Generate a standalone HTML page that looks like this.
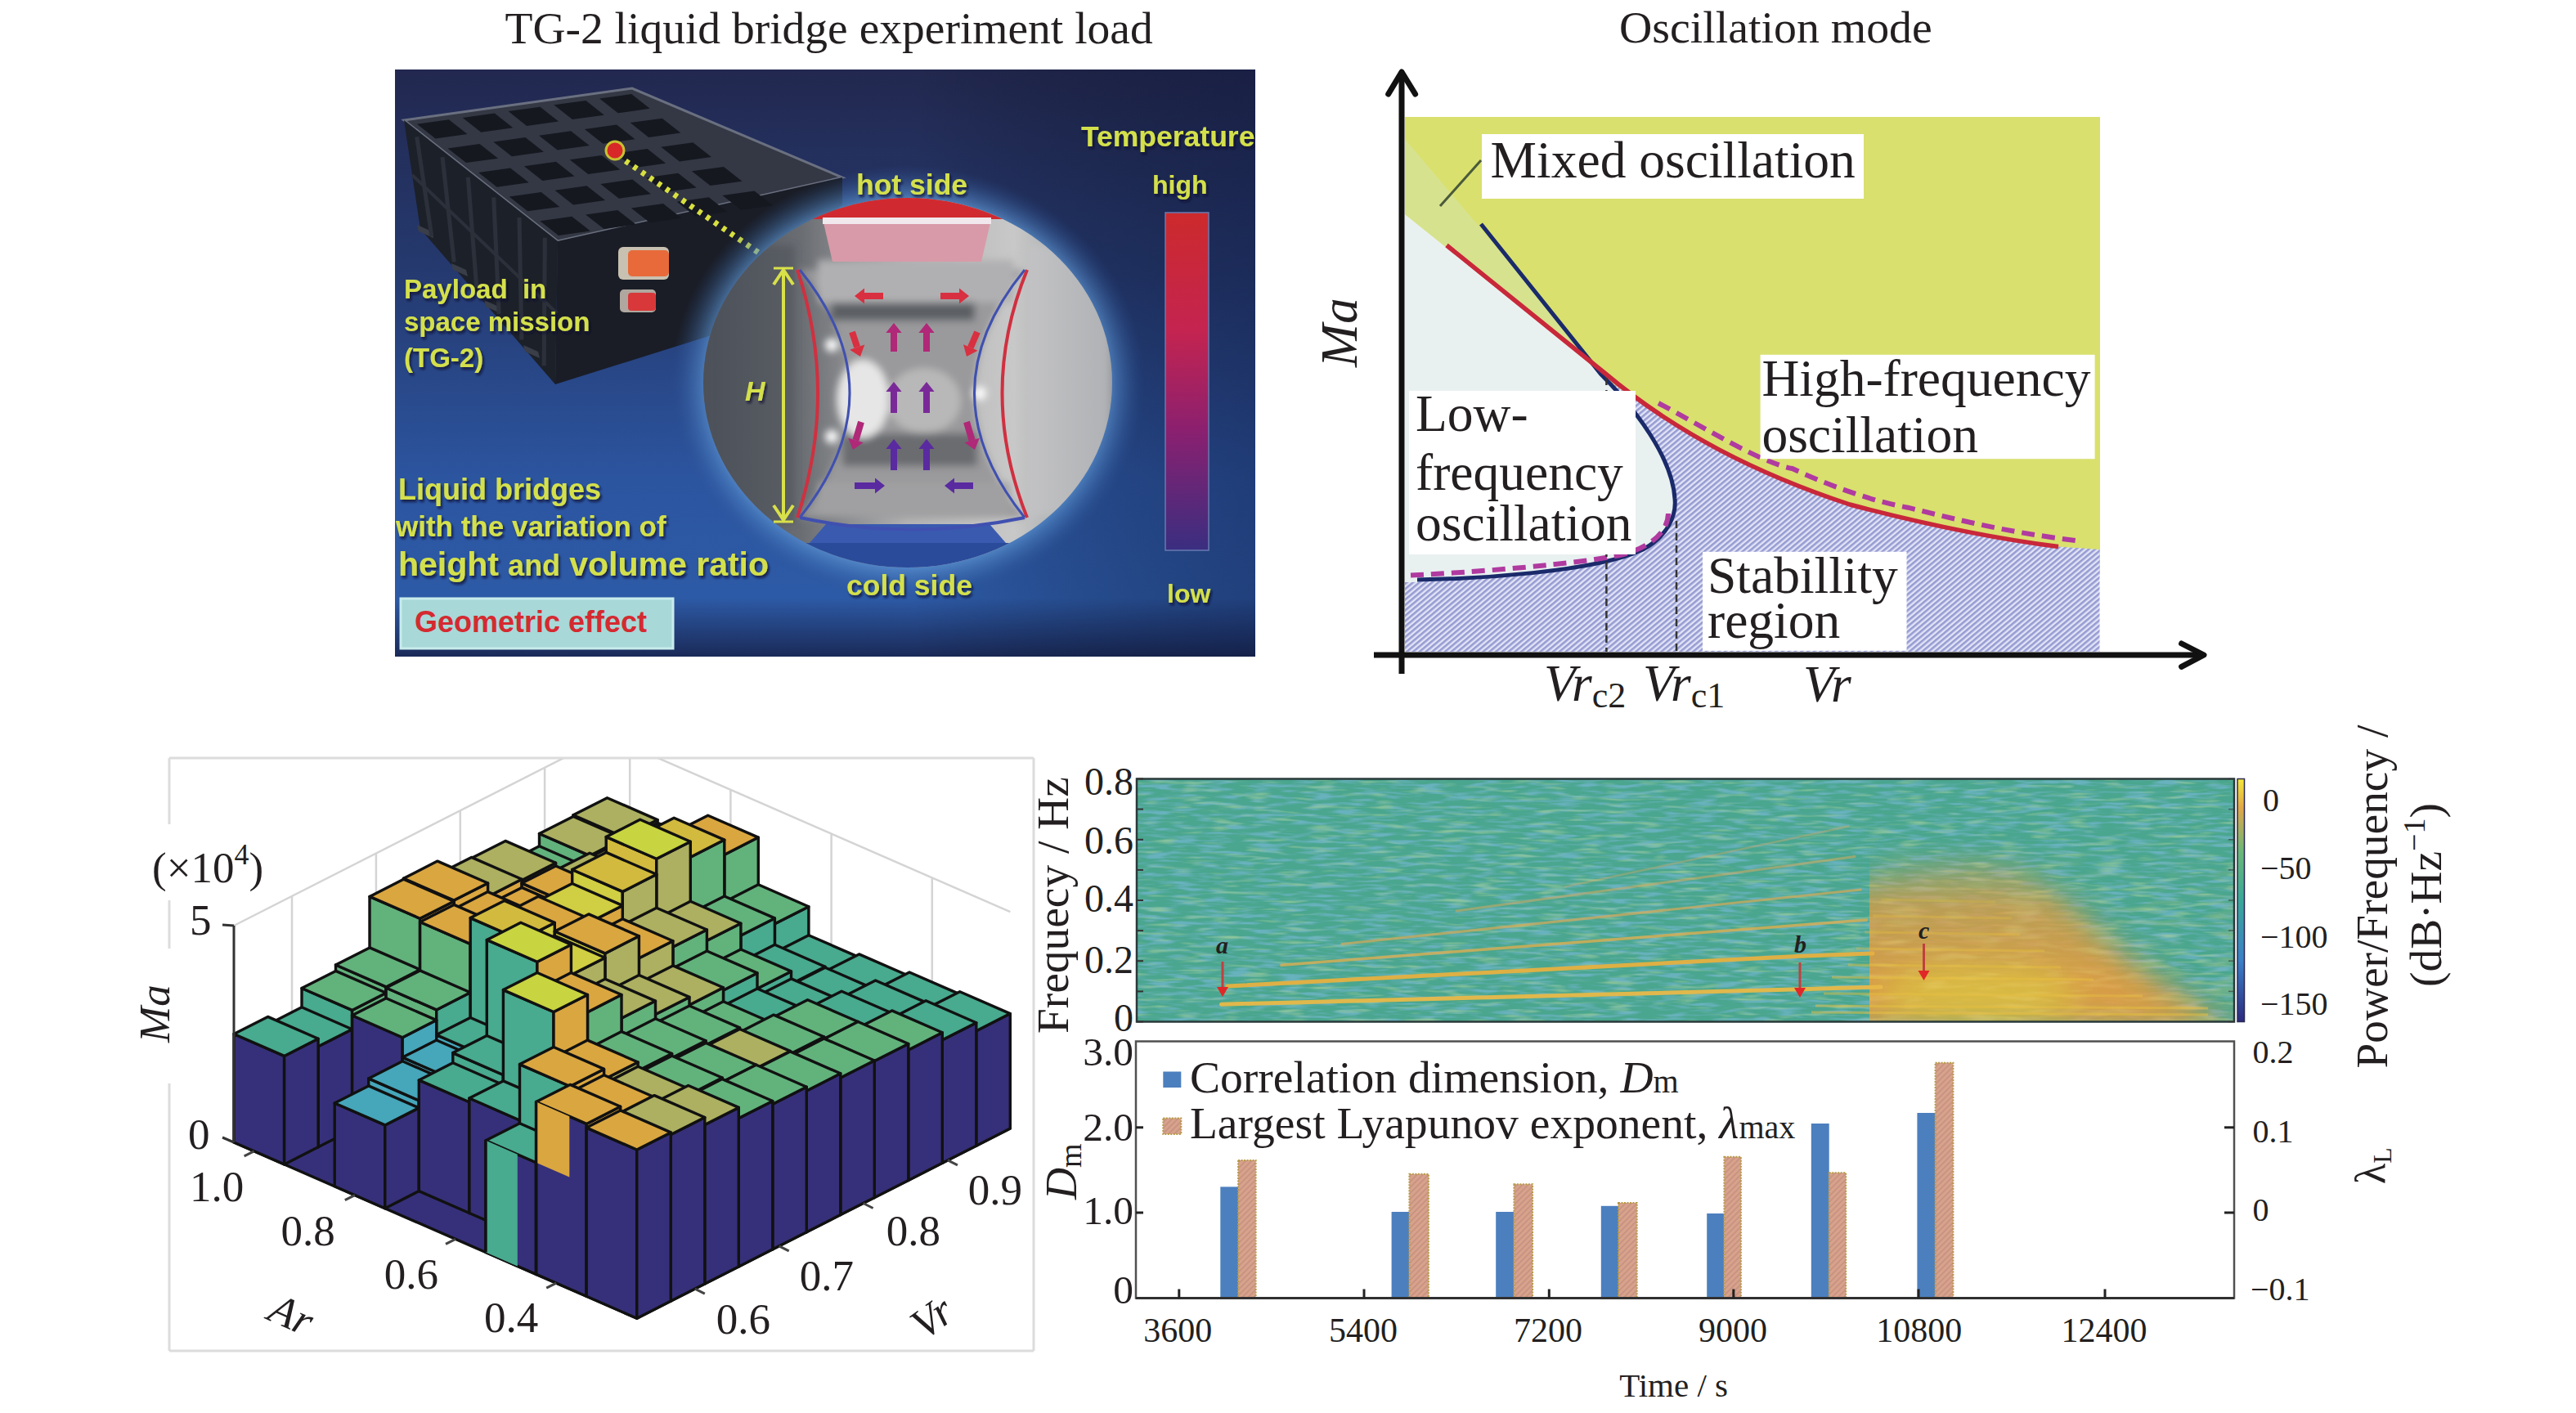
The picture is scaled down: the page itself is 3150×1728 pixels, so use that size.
<!DOCTYPE html>
<html><head><meta charset="utf-8"><style>
html,body{margin:0;padding:0;background:#fff;width:3150px;height:1728px;overflow:hidden}
svg{display:block}
</style></head><body>
<svg width="3150" height="1728" viewBox="0 0 3150 1728">
<defs>
<linearGradient id="phbg" x1="0" y1="0" x2="0" y2="1">
  <stop offset="0" stop-color="#22284f"/>
  <stop offset="0.35" stop-color="#253a70"/>
  <stop offset="0.7" stop-color="#2c55a0"/>
  <stop offset="0.9" stop-color="#2d5aa6"/>
  <stop offset="1" stop-color="#1a2a58"/>
</linearGradient>
<linearGradient id="phbg2" x1="0" y1="0" x2="1" y2="0">
  <stop offset="0" stop-color="#000" stop-opacity="0"/>
  <stop offset="0.6" stop-color="#000" stop-opacity="0"/>
  <stop offset="1" stop-color="#0a1030" stop-opacity="0.35"/>
</linearGradient>
<radialGradient id="glow" cx="0.5" cy="0.5" r="0.5">
  <stop offset="0.85" stop-color="#5e96d2" stop-opacity="0.7"/>
  <stop offset="0.92" stop-color="#4a7cbc" stop-opacity="0.35"/>
  <stop offset="1" stop-color="#2a5090" stop-opacity="0"/>
</radialGradient>
<linearGradient id="lens" x1="0" y1="0" x2="1" y2="0">
  <stop offset="0" stop-color="#4a4f58"/>
  <stop offset="0.25" stop-color="#6a6d72"/>
  <stop offset="0.5" stop-color="#b4b4b4"/>
  <stop offset="0.75" stop-color="#c8c8c8"/>
  <stop offset="1" stop-color="#8a8e94"/>
</linearGradient>
<radialGradient id="lensc" cx="0.42" cy="0.5" r="0.3">
  <stop offset="0" stop-color="#e8e8e8" stop-opacity="0.9"/>
  <stop offset="1" stop-color="#909090" stop-opacity="0"/>
</radialGradient>
<linearGradient id="temp" x1="0" y1="0" x2="0" y2="1">
  <stop offset="0" stop-color="#cc2a2c"/>
  <stop offset="0.35" stop-color="#c42450"/>
  <stop offset="0.65" stop-color="#8a2070"/>
  <stop offset="1" stop-color="#3a2e80"/>
</linearGradient>
<clipPath id="phclip"><rect x="483" y="85" width="1052" height="718"/></clipPath>
<filter id="lensblur" x="-10%" y="-10%" width="120%" height="120%"><feGaussianBlur stdDeviation="5"/></filter>
<clipPath id="lensclip"><ellipse cx="1110" cy="468" rx="250" ry="226"/></clipPath>
<filter id="tsh" x="-5%" y="-20%" width="110%" height="140%"><feDropShadow dx="2" dy="3" stdDeviation="1.5" flood-color="#0a1030" flood-opacity="0.8"/></filter>

<pattern id="hatch" patternUnits="userSpaceOnUse" width="5" height="5" patternTransform="rotate(50)">
  <rect width="5" height="5" fill="#e2e4f6"/>
  <rect width="2.6" height="5" fill="#969cd2"/>
</pattern>

<clipPath id="specclip"><rect x="1390" y="952.5" width="1342" height="297.0"/></clipPath>
<filter id="specnoise" x="0" y="0" width="100%" height="100%" filterUnits="objectBoundingBox">
  <feTurbulence type="fractalNoise" baseFrequency="0.03 0.22" numOctaves="2" seed="7" result="n"/>
  <feColorMatrix in="n" type="matrix" values="0 0 0 0 0.22  0 0 0 0 0.50  0 0 0 0 0.78  3.6 0 0 0 -1.6" result="blue"/>
  <feTurbulence type="fractalNoise" baseFrequency="0.025 0.2" numOctaves="2" seed="23" result="n2"/>
  <feColorMatrix in="n2" type="matrix" values="0 0 0 0 0.52  0 0 0 0 0.72  0 0 0 0 0.40  3.0 0 0 0 -1.65" result="yel"/>
  <feMerge><feMergeNode in="blue"/><feMergeNode in="yel"/></feMerge>
</filter>
<linearGradient id="blobfade" x1="0" y1="0" x2="0" y2="1" gradientUnits="userSpaceOnUse" >
</linearGradient>
<linearGradient id="bfg" gradientUnits="userSpaceOnUse" x1="0" y1="1020" x2="0" y2="1200"><stop offset="0" stop-color="#fff" stop-opacity="0.1"/><stop offset="0.5" stop-color="#fff" stop-opacity="0.8"/><stop offset="1" stop-color="#fff" stop-opacity="1"/></linearGradient>
<mask id="bmask" maskUnits="userSpaceOnUse" x="2200" y="940" width="560" height="320"><rect x="2200" y="940" width="560" height="320" fill="url(#bfg)"/></mask>
<filter id="blobblur" x="-20%" y="-20%" width="140%" height="140%"><feGaussianBlur stdDeviation="18"/></filter>
<filter id="blobnoise" x="0" y="0" width="100%" height="100%" filterUnits="objectBoundingBox">
  <feTurbulence type="fractalNoise" baseFrequency="0.02 0.12" numOctaves="2" seed="3" result="n"/>
  <feColorMatrix in="n" type="matrix" values="0 0 0 0 0.93  0 0 0 0 0.78  0 0 0 0 0.25  2.6 0 0 0 -1.25"/>
</filter>
<linearGradient id="cbar" x1="0" y1="0" x2="0" y2="1">
  <stop offset="0" stop-color="#f4e838"/>
  <stop offset="0.12" stop-color="#e0a848"/>
  <stop offset="0.3" stop-color="#6ab878"/>
  <stop offset="0.5" stop-color="#3aa898"/>
  <stop offset="0.75" stop-color="#3a80c8"/>
  <stop offset="1" stop-color="#2c2a80"/>
</linearGradient>

<pattern id="ohatch" patternUnits="userSpaceOnUse" width="5" height="5" patternTransform="rotate(45)">
  <rect width="5" height="5" fill="#d8a28c"/>
  <rect width="2" height="5" fill="#c89482"/>
</pattern>
</defs>
<rect width="3150" height="1728" fill="#fff"/>
<g clip-path="url(#phclip)"><rect x="483" y="85" width="1052" height="718" fill="url(#phbg)"/><rect x="483" y="85" width="1052" height="718" fill="url(#phbg2)"/><polygon points="494,147 773,108 1030,217 682,295" fill="#343844" stroke="#6a7080" stroke-width="3"/><polygon points="494,147 682,295 679,470 514,280" fill="#1c2029"/><polygon points="510,275 528,283 530,291 512,283" fill="#3a3e48"/><polygon points="552,322 570,330 572,338 554,330" fill="#3a3e48"/><polygon points="592,367 610,375 612,383 594,375" fill="#3a3e48"/><polygon points="640,422 658,430 660,438 642,430" fill="#3a3e48"/><polygon points="682,295 1030,217 1030,250 870,410 679,470" fill="#1a1d26"/><polygon points="509.9,151.8 548.9,146.3 571.5,164.1 532.5,169.5" fill="#15181f"/><polygon points="547.5,181.4 586.5,175.9 609.1,193.7 570.0,199.1" fill="#15181f"/><polygon points="585.1,211.0 624.1,205.5 646.7,223.2 607.6,228.7" fill="#15181f"/><polygon points="622.7,240.6 661.8,235.1 684.3,252.9 645.2,258.3" fill="#15181f"/><polygon points="660.3,270.2 699.3,264.7 721.9,282.4 682.9,287.9" fill="#15181f"/><polygon points="565.7,143.9 604.8,138.5 627.3,156.2 588.2,161.7" fill="#15181f"/><polygon points="603.3,173.6 642.4,168.1 664.9,185.8 625.8,191.3" fill="#15181f"/><polygon points="640.9,203.2 680.0,197.7 702.5,215.4 663.4,220.9" fill="#15181f"/><polygon points="678.5,232.8 717.6,227.3 740.1,245.1 701.0,250.5" fill="#15181f"/><polygon points="716.1,262.4 755.2,256.9 777.7,274.6 738.6,280.1" fill="#15181f"/><polygon points="621.5,136.1 660.5,130.7 683.1,148.4 644.1,153.9" fill="#15181f"/><polygon points="659.1,165.8 698.1,160.3 720.7,178.1 681.6,183.5" fill="#15181f"/><polygon points="696.7,195.3 735.8,189.9 758.3,207.6 719.2,213.1" fill="#15181f"/><polygon points="734.3,224.9 773.4,219.5 795.9,237.2 756.9,242.7" fill="#15181f"/><polygon points="771.9,254.6 811.0,249.1 833.5,266.8 794.5,272.3" fill="#15181f"/><polygon points="677.3,128.3 716.4,122.9 738.9,140.7 699.9,146.1" fill="#15181f"/><polygon points="714.9,157.9 754.0,152.5 776.5,170.2 737.4,175.7" fill="#15181f"/><polygon points="752.5,187.6 791.6,182.1 814.1,199.8 775.0,205.3" fill="#15181f"/><polygon points="790.1,217.2 829.2,211.7 851.7,229.4 812.6,234.9" fill="#15181f"/><polygon points="827.7,246.8 866.8,241.3 889.3,259.0 850.2,264.5" fill="#15181f"/><polygon points="733.1,120.5 772.1,115.1 794.7,132.8 755.7,138.3" fill="#15181f"/><polygon points="770.7,150.1 809.8,144.7 832.3,162.4 793.2,167.9" fill="#15181f"/><polygon points="808.3,179.8 847.4,174.3 869.9,192.1 830.9,197.5" fill="#15181f"/><polygon points="845.9,209.3 885.0,203.9 907.5,221.7 868.5,227.1" fill="#15181f"/><polygon points="883.5,238.9 922.5,233.5 945.1,251.2 906.1,256.7" fill="#15181f"/><line x1="509.7" y1="167.3" x2="527.8" y2="288.8" stroke="#2c303a" stroke-width="5"/><line x1="541.0" y1="192.0" x2="555.2" y2="320.5" stroke="#2c303a" stroke-width="5"/><line x1="572.3" y1="216.7" x2="582.8" y2="352.2" stroke="#2c303a" stroke-width="5"/><line x1="603.7" y1="241.3" x2="610.2" y2="383.8" stroke="#2c303a" stroke-width="5"/><line x1="635.0" y1="266.0" x2="637.8" y2="415.5" stroke="#2c303a" stroke-width="5"/><line x1="666.3" y1="290.7" x2="665.2" y2="447.2" stroke="#2c303a" stroke-width="5"/><line x1="504" y1="214" x2="681" y2="383" stroke="#2c303a" stroke-width="4"/><rect x="756" y="302" width="62" height="40" rx="6" fill="#c8c0b0"/><rect x="768" y="306" width="50" height="32" rx="5" fill="#e86a3a"/><rect x="758" y="354" width="44" height="28" rx="5" fill="#b0a8a0"/><rect x="768" y="358" width="34" height="22" rx="4" fill="#d8383a"/><line x1="755" y1="190" x2="932" y2="312" stroke="#d8e040" stroke-width="7" stroke-dasharray="5,7"/><circle cx="752" cy="184" r="11" fill="#d82828" stroke="#c8c030" stroke-width="3"/><ellipse cx="1110" cy="468" rx="290" ry="266" fill="url(#glow)"/><g clip-path="url(#lensclip)"><rect x="850" y="230" width="520" height="480" fill="url(#lens)"/><g filter="url(#lensblur)"><path d="M978,330 Q1100,480 978,633 L1253,633 Q1130,480 1253,330 Z" fill="#9a9a9c"/><rect x="1000" y="318" width="240" height="52" fill="#b0b0b2"/><rect x="1016" y="370" width="176" height="22" fill="#5c5f64"/><rect x="1030" y="530" width="165" height="40" fill="#6a6c70"/><ellipse cx="1055" cy="488" rx="32" ry="48" fill="#e6e6e6"/><ellipse cx="1130" cy="490" rx="45" ry="40" fill="#b8b8b8"/><rect x="1000" y="590" width="235" height="40" fill="#a0a0a2"/><circle cx="1017" cy="422" r="8" fill="#fff"/><circle cx="1017" cy="534" r="8" fill="#fff"/><circle cx="1198" cy="481" r="8" fill="#fff"/><rect x="1258" y="300" width="100" height="330" fill="#c4c4c6" opacity="0.6"/><rect x="862" y="300" width="110" height="340" fill="#4a4f58" opacity="0.5"/></g><rect x="850" y="230" width="520" height="38" fill="#d02a30"/><polygon points="1006,268 1212,268 1200,320 1018,320" fill="#d89aa8"/><rect x="1006" y="266" width="206" height="8" fill="#f0e8ec"/><rect x="850" y="664" width="520" height="60" fill="#2a4a9a"/><polygon points="1010,641 1210,641 1230,664 990,664" fill="#3a5ab0"/></g><path d="M975,330 Q1025,480 975,633" fill="none" stroke="#d03040" stroke-width="4"/><path d="M978,330 Q1100,480 978,633" fill="none" stroke="#4050b0" stroke-width="3"/><path d="M1256,330 Q1195,480 1256,633" fill="none" stroke="#d03040" stroke-width="4"/><path d="M1253,330 Q1130,480 1253,633" fill="none" stroke="#4050b0" stroke-width="3"/><path d="M978,633 Q1115,662 1253,633" fill="none" stroke="#4050b0" stroke-width="4"/><line x1="1080" y1="362" x2="1057.0" y2="362.0" stroke="#d83040" stroke-width="8"/><polygon points="1045,362 1057.0,371.6 1057.0,352.4" fill="#d83040"/><line x1="1150" y1="362" x2="1173.0" y2="362.0" stroke="#d83040" stroke-width="8"/><polygon points="1185,362 1173.0,352.4 1173.0,371.6" fill="#d83040"/><line x1="1042" y1="406" x2="1048.2" y2="424.6" stroke="#d83040" stroke-width="8"/><polygon points="1052,436 1057.3,421.6 1039.1,427.7" fill="#d83040"/><line x1="1195" y1="406" x2="1186.8" y2="425.0" stroke="#d83040" stroke-width="8"/><polygon points="1182,436 1195.6,428.8 1178.0,421.2" fill="#d83040"/><line x1="1093" y1="430" x2="1093.0" y2="407.0" stroke="#b02878" stroke-width="8"/><polygon points="1093,395 1083.4,407.0 1102.6,407.0" fill="#b02878"/><line x1="1133" y1="430" x2="1133.0" y2="407.0" stroke="#b02878" stroke-width="8"/><polygon points="1133,395 1123.4,407.0 1142.6,407.0" fill="#b02878"/><line x1="1093" y1="505" x2="1093.0" y2="479.0" stroke="#7a2a98" stroke-width="8"/><polygon points="1093,467 1083.4,479.0 1102.6,479.0" fill="#7a2a98"/><line x1="1133" y1="505" x2="1133.0" y2="479.0" stroke="#7a2a98" stroke-width="8"/><polygon points="1133,467 1123.4,479.0 1142.6,479.0" fill="#7a2a98"/><line x1="1053" y1="516" x2="1046.4" y2="538.5" stroke="#b02878" stroke-width="8"/><polygon points="1043,550 1055.6,541.2 1037.2,535.8" fill="#b02878"/><line x1="1182" y1="516" x2="1188.6" y2="538.5" stroke="#b02878" stroke-width="8"/><polygon points="1192,550 1197.8,535.8 1179.4,541.2" fill="#b02878"/><line x1="1093" y1="575" x2="1093.0" y2="549.0" stroke="#5a2aa0" stroke-width="8"/><polygon points="1093,537 1083.4,549.0 1102.6,549.0" fill="#5a2aa0"/><line x1="1133" y1="575" x2="1133.0" y2="549.0" stroke="#5a2aa0" stroke-width="8"/><polygon points="1133,537 1123.4,549.0 1142.6,549.0" fill="#5a2aa0"/><line x1="1045" y1="594" x2="1070.0" y2="594.0" stroke="#5a2aa0" stroke-width="8"/><polygon points="1082,594 1070.0,584.4 1070.0,603.6" fill="#5a2aa0"/><line x1="1190" y1="594" x2="1167.0" y2="594.0" stroke="#5a2aa0" stroke-width="8"/><polygon points="1155,594 1167.0,603.6 1167.0,584.4" fill="#5a2aa0"/><line x1="958" y1="330" x2="958" y2="636" stroke="#d8e04a" stroke-width="4"/><polyline points="946,348 958,330 970,348" fill="none" stroke="#d8e04a" stroke-width="4"/><polyline points="946,618 958,636 970,618" fill="none" stroke="#d8e04a" stroke-width="4"/><line x1="946" y1="328" x2="970" y2="328" stroke="#d8e04a" stroke-width="3"/><line x1="946" y1="638" x2="970" y2="638" stroke="#d8e04a" stroke-width="3"/><rect x="1425" y="260" width="53" height="413" fill="url(#temp)" stroke="#6a7ab0" stroke-width="1.5"/><rect x="490" y="732" width="333" height="61" fill="#a8d8d8" stroke="#c8ecec" stroke-width="3"/><text x="494" y="365" font-family="'Liberation Sans',sans-serif" font-size="33" fill="#d4e04c" text-anchor="start" font-weight="bold" style="" filter="url(#tsh)">Payload&#160;&#160;in</text><text x="494" y="405" font-family="'Liberation Sans',sans-serif" font-size="33" fill="#d4e04c" text-anchor="start" font-weight="bold" style="" filter="url(#tsh)">space mission</text><text x="494" y="449" font-family="'Liberation Sans',sans-serif" font-size="33" fill="#d4e04c" text-anchor="start" font-weight="bold" style="" filter="url(#tsh)">(TG-2)</text><text x="487" y="611" font-family="'Liberation Sans',sans-serif" font-size="36" fill="#d4e04c" text-anchor="start" font-weight="bold" style="" filter="url(#tsh)">Liquid bridges</text><text x="484" y="656" font-family="'Liberation Sans',sans-serif" font-size="35" fill="#d4e04c" text-anchor="start" font-weight="bold" style="" filter="url(#tsh)">with the variation of</text><text x="487" y="704" font-family="'Liberation Sans',sans-serif" font-size="40" fill="#d4e04c" text-anchor="start" font-weight="bold" style="" filter="url(#tsh)"><tspan font-size="41">height</tspan> <tspan font-size="36">and</tspan> <tspan font-size="41">volume ratio</tspan></text><text x="1047" y="238" font-family="'Liberation Sans',sans-serif" font-size="35.5" fill="#d4e04c" text-anchor="start" font-weight="bold" style="" filter="url(#tsh)">hot side</text><text x="1035" y="728" font-family="'Liberation Sans',sans-serif" font-size="35.5" fill="#d4e04c" text-anchor="start" font-weight="bold" style="" filter="url(#tsh)">cold side</text><text x="911" y="490" font-family="'Liberation Sans',sans-serif" font-size="34" fill="#d4e04c" text-anchor="start" font-weight="bold" style="font-style:italic;" filter="url(#tsh)">H</text><text x="1322" y="179" font-family="'Liberation Sans',sans-serif" font-size="35.5" fill="#d4e04c" text-anchor="start" font-weight="bold" style="" filter="url(#tsh)">Temperature</text><text x="1409" y="237" font-family="'Liberation Sans',sans-serif" font-size="32" fill="#d4e04c" text-anchor="start" font-weight="bold" style="" filter="url(#tsh)">high</text><text x="1427" y="737" font-family="'Liberation Sans',sans-serif" font-size="32" fill="#d4e04c" text-anchor="start" font-weight="bold" style="" filter="url(#tsh)">low</text><text x="507" y="773" font-family="'Liberation Sans',sans-serif" font-size="36" fill="#d42a30" text-anchor="start" font-weight="bold" style="" >Geometric effect</text></g><text x="617.5" y="53" font-family="'Liberation Serif',serif" font-size="55.5" fill="#231f20" text-anchor="start" font-weight="normal" style="" >TG-2 liquid bridge experiment load</text><rect x="1718" y="143" width="850" height="560" fill="#d9e06e"/><path d="M1718,797 L1718,712 C1800,708 1950,700 2009,672 C2040,655 2050,630 2048,610 C2045,560 2000,500 1958,458 C2050,530 2150,580 2262,617 C2368,645 2450,660 2517,668.5 L2567.5,672 L2567.5,797 Z" fill="url(#hatch)"/><path d="M1718,262 L1962,458 C2000,500 2045,560 2048,610 C2050,630 2040,655 2009,672 C1950,700 1800,708 1718,712 Z" fill="#e9f1f0"/><polygon points="1718,170 1962,458 1718,262" fill="#d6e28e"/><path d="M1733,709 C1800,708 1950,700 2009,672 C2040,655 2050,630 2048,610 C2045,560 2000,500 1958,458 L1811,274" fill="none" stroke="#1a2a6a" stroke-width="5"/><path d="M1769,300 L1962,456 C2050,530 2150,580 2262,617 C2368,645 2450,660 2517,668.5" fill="none" stroke="#c8283a" stroke-width="5.5"/><path d="M1725,703.5 C1800,700 1930,690 1985,678 C2020,668 2040,650 2040,627" fill="none" stroke="#b03aa0" stroke-width="6" stroke-dasharray="16,9"/><path d="M2028,493 C2080,520 2150,565 2191.6,573 C2250,600 2300,615 2333,620.7 C2400,637 2450,650 2538,661" fill="none" stroke="#b03aa0" stroke-width="6" stroke-dasharray="16,9"/><line x1="1964.4" y1="462" x2="1964.4" y2="797" stroke="#333" stroke-width="2.5" stroke-dasharray="9,6"/><line x1="2050" y1="637" x2="2050" y2="797" stroke="#333" stroke-width="2.5" stroke-dasharray="9,6"/><line x1="1761" y1="252" x2="1811" y2="196" stroke="#4a5a3a" stroke-width="3"/><rect x="1812" y="164" width="467" height="79" fill="#fff"/><rect x="2152.6" y="433.8" width="409" height="127.4" fill="#fff"/><rect x="1723" y="478" width="277" height="200" fill="#fff"/><rect x="2082" y="674.8" width="249.5" height="121" fill="#fff"/><line x1="1714" y1="95" x2="1714" y2="824" stroke="#111" stroke-width="7"/><polyline points="1697.7,115 1714,88 1730.6,115" fill="none" stroke="#111" stroke-width="7" stroke-linecap="round" stroke-linejoin="round"/><line x1="1680" y1="801" x2="2690" y2="801" stroke="#111" stroke-width="7"/><polyline points="2667.6,787 2695,801 2667.6,815.3" fill="none" stroke="#111" stroke-width="7" stroke-linecap="round" stroke-linejoin="round"/><text x="1822.6" y="216.6" font-family="'Liberation Serif',serif" font-size="63.5" fill="#231f20" text-anchor="start" font-weight="normal" style="" >Mixed oscillation</text><text x="2154.4" y="484.4" font-family="'Liberation Serif',serif" font-size="63.5" fill="#231f20" text-anchor="start" font-weight="normal" style="" >High-frequency</text><text x="2154.4" y="553.4" font-family="'Liberation Serif',serif" font-size="63.5" fill="#231f20" text-anchor="start" font-weight="normal" style="" >oscillation</text><text x="1731" y="526.5" font-family="'Liberation Serif',serif" font-size="63.5" fill="#231f20" text-anchor="start" font-weight="normal" style="" >Low-</text><text x="1731" y="598.5" font-family="'Liberation Serif',serif" font-size="63.5" fill="#231f20" text-anchor="start" font-weight="normal" style="" >frequency</text><text x="1731" y="660.7" font-family="'Liberation Serif',serif" font-size="63.5" fill="#231f20" text-anchor="start" font-weight="normal" style="" >oscillation</text><text x="2088" y="725" font-family="'Liberation Serif',serif" font-size="63.5" fill="#231f20" text-anchor="start" font-weight="normal" style="" >Stabillity</text><text x="2088" y="780" font-family="'Liberation Serif',serif" font-size="63.5" fill="#231f20" text-anchor="start" font-weight="normal" style="" >region</text><text x="1888" y="857" font-family="'Liberation Serif',serif" font-size="63.5" fill="#231f20" text-anchor="start" font-weight="normal" style="" ><tspan font-style="italic">Vr</tspan><tspan font-size="44" dy="8">c2</tspan></text><text x="2009" y="857" font-family="'Liberation Serif',serif" font-size="63.5" fill="#231f20" text-anchor="start" font-weight="normal" style="" ><tspan font-style="italic">Vr</tspan><tspan font-size="44" dy="8">c1</tspan></text><text x="2205" y="857.8" font-family="'Liberation Serif',serif" font-size="63.5" fill="#231f20" text-anchor="start" font-weight="normal" style="" ><tspan font-style="italic">Vr</tspan></text><text x="0" y="0" font-family="'Liberation Serif',serif" font-size="63.5" fill="#231f20" text-anchor="start" font-weight="normal" style="font-style:italic;" transform="translate(1659,449) rotate(-90)">Ma</text><text x="1980" y="52.4" font-family="'Liberation Serif',serif" font-size="55.8" fill="#231f20" text-anchor="start" font-weight="normal" style="" >Oscillation mode</text><g stroke="#dcdcdc" stroke-width="3" fill="none"><line x1="207" y1="927" x2="1264" y2="927"/><line x1="1264" y1="927" x2="1264" y2="1652"/><line x1="207" y1="1652" x2="1264" y2="1652"/><line x1="207" y1="927" x2="207" y2="1008"/><line x1="207" y1="1101" x2="207" y2="1160"/><line x1="207" y1="1325" x2="207" y2="1652"/></g><clipPath id="wallclip"><rect x="200" y="928" width="1070" height="730"/></clipPath><g stroke="#d4d4d4" stroke-width="2.5" fill="none" clip-path="url(#wallclip)"><line x1="286.0" y1="1132.0" x2="742.5" y2="899.9"/><line x1="742.5" y1="899.9" x2="1235.3" y2="1115.1"/><line x1="357.0" y1="1360.9" x2="357.0" y2="1095.9"/><line x1="459.9" y1="1308.6" x2="459.9" y2="1043.6"/><line x1="562.8" y1="1256.3" x2="562.8" y2="991.3"/><line x1="666.1" y1="1203.7" x2="666.1" y2="938.7"/><line x1="770.2" y1="1177.0" x2="770.2" y2="912.0"/><line x1="893.4" y1="1230.8" x2="893.4" y2="965.8"/><line x1="1016.6" y1="1284.6" x2="1016.6" y2="1019.6"/><line x1="1139.8" y1="1338.4" x2="1139.8" y2="1073.4"/></g><polygon points="286.0,1397.0 778.8,1612.2 1235.3,1380.1 742.5,1164.9" fill="#36307a" stroke="#111" stroke-width="3.4" stroke-linejoin="round"/><polygon points="701.0,1186.0 762.6,1212.9 762.6,1023.7 701.0,996.8" fill="#acb060" stroke="#111" stroke-width="3.4" stroke-linejoin="round"/><polygon points="762.6,1212.9 804.1,1191.8 804.1,1002.6 762.6,1023.7" fill="#daa640" stroke="#111" stroke-width="3.4" stroke-linejoin="round"/><polygon points="701.0,996.8 762.6,1023.7 804.1,1002.6 742.5,975.7" fill="#acb060" stroke="#111" stroke-width="3.4" stroke-linejoin="round"/><polygon points="659.5,1207.1 721.1,1234.0 721.1,1046.4 659.5,1019.5" fill="#62b27c" stroke="#111" stroke-width="3.4" stroke-linejoin="round"/><polygon points="721.1,1234.0 762.6,1212.9 762.6,1025.3 721.1,1046.4" fill="#acb060" stroke="#111" stroke-width="3.4" stroke-linejoin="round"/><polygon points="659.5,1019.5 721.1,1046.4 762.6,1025.3 701.0,998.4" fill="#acb060" stroke="#111" stroke-width="3.4" stroke-linejoin="round"/><polygon points="618.0,1228.2 679.6,1255.1 679.6,1082.9 618.0,1056.0" fill="#acb060" stroke="#111" stroke-width="3.4" stroke-linejoin="round"/><polygon points="679.6,1255.1 721.1,1234.0 721.1,1061.8 679.6,1082.9" fill="#acb060" stroke="#111" stroke-width="3.4" stroke-linejoin="round"/><polygon points="618.0,1056.0 679.6,1082.9 721.1,1061.8 659.5,1034.8" fill="#62b27c" stroke="#111" stroke-width="3.4" stroke-linejoin="round"/><polygon points="576.5,1249.3 638.1,1276.2 638.1,1076.4 576.5,1049.5" fill="#acb060" stroke="#111" stroke-width="3.4" stroke-linejoin="round"/><polygon points="638.1,1276.2 679.6,1255.1 679.6,1055.3 638.1,1076.4" fill="#daa640" stroke="#111" stroke-width="3.4" stroke-linejoin="round"/><polygon points="576.5,1049.5 638.1,1076.4 679.6,1055.3 618.0,1028.4" fill="#acb060" stroke="#111" stroke-width="3.4" stroke-linejoin="round"/><polygon points="535.0,1270.4 596.6,1297.3 596.6,1096.4 535.0,1069.5" fill="#daa640" stroke="#111" stroke-width="3.4" stroke-linejoin="round"/><polygon points="596.6,1297.3 638.1,1276.2 638.1,1075.3 596.6,1096.4" fill="#daa640" stroke="#111" stroke-width="3.4" stroke-linejoin="round"/><polygon points="535.0,1069.5 596.6,1096.4 638.1,1075.3 576.5,1048.4" fill="#acb060" stroke="#111" stroke-width="3.4" stroke-linejoin="round"/><polygon points="493.5,1291.5 555.1,1318.4 555.1,1101.1 493.5,1074.2" fill="#daa640" stroke="#111" stroke-width="3.4" stroke-linejoin="round"/><polygon points="555.1,1318.4 596.6,1297.3 596.6,1080.0 555.1,1101.1" fill="#daa640" stroke="#111" stroke-width="3.4" stroke-linejoin="round"/><polygon points="493.5,1074.2 555.1,1101.1 596.6,1080.0 535.0,1053.1" fill="#daa640" stroke="#111" stroke-width="3.4" stroke-linejoin="round"/><polygon points="452.0,1312.6 513.6,1339.5 513.6,1123.3 452.0,1096.4" fill="#62b27c" stroke="#111" stroke-width="3.4" stroke-linejoin="round"/><polygon points="513.6,1339.5 555.1,1318.4 555.1,1102.2 513.6,1123.3" fill="#daa640" stroke="#111" stroke-width="3.4" stroke-linejoin="round"/><polygon points="452.0,1096.4 513.6,1123.3 555.1,1102.2 493.5,1075.3" fill="#daa640" stroke="#111" stroke-width="3.4" stroke-linejoin="round"/><polygon points="410.5,1333.7 472.1,1360.6 472.1,1206.9 410.5,1180.0" fill="#62b27c" stroke="#111" stroke-width="3.4" stroke-linejoin="round"/><polygon points="472.1,1360.6 513.6,1339.5 513.6,1185.8 472.1,1206.9" fill="#62b27c" stroke="#111" stroke-width="3.4" stroke-linejoin="round"/><polygon points="410.5,1180.0 472.1,1206.9 513.6,1185.8 452.0,1158.9" fill="#62b27c" stroke="#111" stroke-width="3.4" stroke-linejoin="round"/><polygon points="369.0,1354.8 430.6,1381.7 430.6,1235.4 369.0,1208.5" fill="#48aa8e" stroke="#111" stroke-width="3.4" stroke-linejoin="round"/><polygon points="430.6,1381.7 472.1,1360.6 472.1,1214.3 430.6,1235.4" fill="#62b27c" stroke="#111" stroke-width="3.4" stroke-linejoin="round"/><polygon points="369.0,1208.5 430.6,1235.4 472.1,1214.3 410.5,1187.4" fill="#62b27c" stroke="#111" stroke-width="3.4" stroke-linejoin="round"/><polygon points="327.5,1375.9 389.1,1402.8 389.1,1279.8 327.5,1252.9" fill="#48aa8e" stroke="#111" stroke-width="3.4" stroke-linejoin="round"/><polygon points="389.1,1402.8 430.6,1381.7 430.6,1258.7 389.1,1279.8" fill="#36307a" stroke="#111" stroke-width="3.4" stroke-linejoin="round"/><polygon points="327.5,1252.9 389.1,1279.8 430.6,1258.7 369.0,1231.8" fill="#48aa8e" stroke="#111" stroke-width="3.4" stroke-linejoin="round"/><polygon points="286.0,1397.0 347.6,1423.9 347.6,1291.4 286.0,1264.5" fill="#36307a" stroke="#111" stroke-width="3.4" stroke-linejoin="round"/><polygon points="347.6,1423.9 389.1,1402.8 389.1,1270.3 347.6,1291.4" fill="#36307a" stroke="#111" stroke-width="3.4" stroke-linejoin="round"/><polygon points="286.0,1264.5 347.6,1291.4 389.1,1270.3 327.5,1243.4" fill="#48aa8e" stroke="#111" stroke-width="3.4" stroke-linejoin="round"/><polygon points="762.6,1212.9 824.2,1239.8 824.2,1054.3 762.6,1027.4" fill="#acb060" stroke="#111" stroke-width="3.4" stroke-linejoin="round"/><polygon points="824.2,1239.8 865.7,1218.7 865.7,1033.2 824.2,1054.3" fill="#daa640" stroke="#111" stroke-width="3.4" stroke-linejoin="round"/><polygon points="762.6,1027.4 824.2,1054.3 865.7,1033.2 804.1,1006.3" fill="#daa640" stroke="#111" stroke-width="3.4" stroke-linejoin="round"/><polygon points="721.1,1234.0 782.7,1260.9 782.7,1075.4 721.1,1048.5" fill="#acb060" stroke="#111" stroke-width="3.4" stroke-linejoin="round"/><polygon points="782.7,1260.9 824.2,1239.8 824.2,1054.3 782.7,1075.4" fill="#d2ba3e" stroke="#111" stroke-width="3.4" stroke-linejoin="round"/><polygon points="721.1,1048.5 782.7,1075.4 824.2,1054.3 762.6,1027.4" fill="#acb060" stroke="#111" stroke-width="3.4" stroke-linejoin="round"/><polygon points="679.6,1255.1 741.2,1282.0 741.2,1091.2 679.6,1064.3" fill="#daa640" stroke="#111" stroke-width="3.4" stroke-linejoin="round"/><polygon points="741.2,1282.0 782.7,1260.9 782.7,1070.1 741.2,1091.2" fill="#c8d440" stroke="#111" stroke-width="3.4" stroke-linejoin="round"/><polygon points="679.6,1064.3 741.2,1091.2 782.7,1070.1 721.1,1043.2" fill="#acb060" stroke="#111" stroke-width="3.4" stroke-linejoin="round"/><polygon points="638.1,1276.2 699.7,1303.1 699.7,1107.0 638.1,1080.1" fill="#daa640" stroke="#111" stroke-width="3.4" stroke-linejoin="round"/><polygon points="699.7,1303.1 741.2,1282.0 741.2,1085.9 699.7,1107.0" fill="#d2ba3e" stroke="#111" stroke-width="3.4" stroke-linejoin="round"/><polygon points="638.1,1080.1 699.7,1107.0 741.2,1085.9 679.6,1059.0" fill="#daa640" stroke="#111" stroke-width="3.4" stroke-linejoin="round"/><polygon points="596.6,1297.3 658.2,1324.2 658.2,1133.4 596.6,1106.5" fill="#daa640" stroke="#111" stroke-width="3.4" stroke-linejoin="round"/><polygon points="658.2,1324.2 699.7,1303.1 699.7,1112.3 658.2,1133.4" fill="#d0ce42" stroke="#111" stroke-width="3.4" stroke-linejoin="round"/><polygon points="596.6,1106.5 658.2,1133.4 699.7,1112.3 638.1,1085.4" fill="#daa640" stroke="#111" stroke-width="3.4" stroke-linejoin="round"/><polygon points="555.1,1318.4 616.7,1345.3 616.7,1138.6 555.1,1111.7" fill="#daa640" stroke="#111" stroke-width="3.4" stroke-linejoin="round"/><polygon points="616.7,1345.3 658.2,1324.2 658.2,1117.5 616.7,1138.6" fill="#daa640" stroke="#111" stroke-width="3.4" stroke-linejoin="round"/><polygon points="555.1,1111.7 616.7,1138.6 658.2,1117.5 596.6,1090.6" fill="#daa640" stroke="#111" stroke-width="3.4" stroke-linejoin="round"/><polygon points="513.6,1339.5 575.2,1366.4 575.2,1154.4 513.6,1127.5" fill="#62b27c" stroke="#111" stroke-width="3.4" stroke-linejoin="round"/><polygon points="575.2,1366.4 616.7,1345.3 616.7,1133.3 575.2,1154.4" fill="#d2ba3e" stroke="#111" stroke-width="3.4" stroke-linejoin="round"/><polygon points="513.6,1127.5 575.2,1154.4 616.7,1133.3 555.1,1106.4" fill="#daa640" stroke="#111" stroke-width="3.4" stroke-linejoin="round"/><polygon points="472.1,1360.6 533.7,1387.5 533.7,1234.9 472.1,1208.0" fill="#62b27c" stroke="#111" stroke-width="3.4" stroke-linejoin="round"/><polygon points="533.7,1387.5 575.2,1366.4 575.2,1213.8 533.7,1234.9" fill="#48aa8e" stroke="#111" stroke-width="3.4" stroke-linejoin="round"/><polygon points="472.1,1208.0 533.7,1234.9 575.2,1213.8 513.6,1186.9" fill="#62b27c" stroke="#111" stroke-width="3.4" stroke-linejoin="round"/><polygon points="430.6,1381.7 492.2,1408.6 492.2,1268.7 430.6,1241.8" fill="#36307a" stroke="#111" stroke-width="3.4" stroke-linejoin="round"/><polygon points="492.2,1408.6 533.7,1387.5 533.7,1247.6 492.2,1268.7" fill="#46a6ba" stroke="#111" stroke-width="3.4" stroke-linejoin="round"/><polygon points="430.6,1241.8 492.2,1268.7 533.7,1247.6 472.1,1220.7" fill="#62b27c" stroke="#111" stroke-width="3.4" stroke-linejoin="round"/><polygon points="824.2,1239.8 885.8,1266.7 885.8,1045.2 824.2,1018.3" fill="#d2ba3e" stroke="#111" stroke-width="3.4" stroke-linejoin="round"/><polygon points="885.8,1266.7 927.3,1245.6 927.3,1024.1 885.8,1045.2" fill="#62b27c" stroke="#111" stroke-width="3.4" stroke-linejoin="round"/><polygon points="824.2,1018.3 885.8,1045.2 927.3,1024.1 865.7,997.2" fill="#daa640" stroke="#111" stroke-width="3.4" stroke-linejoin="round"/><polygon points="782.7,1260.9 844.3,1287.8 844.3,1048.2 782.7,1021.3" fill="#c8d440" stroke="#111" stroke-width="3.4" stroke-linejoin="round"/><polygon points="844.3,1287.8 885.8,1266.7 885.8,1027.1 844.3,1048.2" fill="#62b27c" stroke="#111" stroke-width="3.4" stroke-linejoin="round"/><polygon points="782.7,1021.3 844.3,1048.2 885.8,1027.1 824.2,1000.2" fill="#d2ba3e" stroke="#111" stroke-width="3.4" stroke-linejoin="round"/><polygon points="741.2,1282.0 802.8,1308.9 802.8,1050.3 741.2,1023.4" fill="#d2ba3e" stroke="#111" stroke-width="3.4" stroke-linejoin="round"/><polygon points="802.8,1308.9 844.3,1287.8 844.3,1029.2 802.8,1050.3" fill="#acb060" stroke="#111" stroke-width="3.4" stroke-linejoin="round"/><polygon points="741.2,1023.4 802.8,1050.3 844.3,1029.2 782.7,1002.3" fill="#c8d440" stroke="#111" stroke-width="3.4" stroke-linejoin="round"/><polygon points="699.7,1303.1 761.3,1330.0 761.3,1090.4 699.7,1063.5" fill="#d0ce42" stroke="#111" stroke-width="3.4" stroke-linejoin="round"/><polygon points="761.3,1330.0 802.8,1308.9 802.8,1069.3 761.3,1090.4" fill="#acb060" stroke="#111" stroke-width="3.4" stroke-linejoin="round"/><polygon points="699.7,1063.5 761.3,1090.4 802.8,1069.3 741.2,1042.4" fill="#d2ba3e" stroke="#111" stroke-width="3.4" stroke-linejoin="round"/><polygon points="658.2,1324.2 719.8,1351.1 719.8,1128.5 658.2,1101.6" fill="#daa640" stroke="#111" stroke-width="3.4" stroke-linejoin="round"/><polygon points="719.8,1351.1 761.3,1330.0 761.3,1107.4 719.8,1128.5" fill="#daa640" stroke="#111" stroke-width="3.4" stroke-linejoin="round"/><polygon points="658.2,1101.6 719.8,1128.5 761.3,1107.4 699.7,1080.5" fill="#d0ce42" stroke="#111" stroke-width="3.4" stroke-linejoin="round"/><polygon points="616.7,1345.3 678.3,1372.2 678.3,1144.3 616.7,1117.4" fill="#d2ba3e" stroke="#111" stroke-width="3.4" stroke-linejoin="round"/><polygon points="678.3,1372.2 719.8,1351.1 719.8,1123.2 678.3,1144.3" fill="#daa640" stroke="#111" stroke-width="3.4" stroke-linejoin="round"/><polygon points="616.7,1117.4 678.3,1144.3 719.8,1123.2 658.2,1096.3" fill="#daa640" stroke="#111" stroke-width="3.4" stroke-linejoin="round"/><polygon points="575.2,1366.4 636.8,1393.3 636.8,1149.5 575.2,1122.6" fill="#48aa8e" stroke="#111" stroke-width="3.4" stroke-linejoin="round"/><polygon points="636.8,1393.3 678.3,1372.2 678.3,1128.4 636.8,1149.5" fill="#d0ce42" stroke="#111" stroke-width="3.4" stroke-linejoin="round"/><polygon points="575.2,1122.6 636.8,1149.5 678.3,1128.4 616.7,1101.5" fill="#d2ba3e" stroke="#111" stroke-width="3.4" stroke-linejoin="round"/><polygon points="533.7,1387.5 595.3,1414.4 595.3,1292.5 533.7,1265.6" fill="#46a6ba" stroke="#111" stroke-width="3.4" stroke-linejoin="round"/><polygon points="595.3,1414.4 636.8,1393.3 636.8,1271.4 595.3,1292.5" fill="#c8d440" stroke="#111" stroke-width="3.4" stroke-linejoin="round"/><polygon points="533.7,1265.6 595.3,1292.5 636.8,1271.4 575.2,1244.5" fill="#48aa8e" stroke="#111" stroke-width="3.4" stroke-linejoin="round"/><polygon points="492.2,1408.6 553.8,1435.5 553.8,1320.0 492.2,1293.1" fill="#46a6ba" stroke="#111" stroke-width="3.4" stroke-linejoin="round"/><polygon points="553.8,1435.5 595.3,1414.4 595.3,1298.9 553.8,1320.0" fill="#48aa8e" stroke="#111" stroke-width="3.4" stroke-linejoin="round"/><polygon points="492.2,1293.1 553.8,1320.0 595.3,1298.9 533.7,1272.0" fill="#46a6ba" stroke="#111" stroke-width="3.4" stroke-linejoin="round"/><polygon points="450.7,1429.7 512.3,1456.6 512.3,1345.8 450.7,1318.9" fill="#46a6ba" stroke="#111" stroke-width="3.4" stroke-linejoin="round"/><polygon points="512.3,1456.6 553.8,1435.5 553.8,1324.7 512.3,1345.8" fill="#48aa8e" stroke="#111" stroke-width="3.4" stroke-linejoin="round"/><polygon points="450.7,1318.9 512.3,1345.8 553.8,1324.7 492.2,1297.8" fill="#46a6ba" stroke="#111" stroke-width="3.4" stroke-linejoin="round"/><polygon points="409.2,1450.8 470.8,1477.7 470.8,1375.9 409.2,1349.0" fill="#36307a" stroke="#111" stroke-width="3.4" stroke-linejoin="round"/><polygon points="470.8,1477.7 512.3,1456.6 512.3,1354.8 470.8,1375.9" fill="#36307a" stroke="#111" stroke-width="3.4" stroke-linejoin="round"/><polygon points="409.2,1349.0 470.8,1375.9 512.3,1354.8 450.7,1327.9" fill="#46a6ba" stroke="#111" stroke-width="3.4" stroke-linejoin="round"/><polygon points="885.8,1266.7 947.4,1293.6 947.4,1129.8 885.8,1102.9" fill="#62b27c" stroke="#111" stroke-width="3.4" stroke-linejoin="round"/><polygon points="947.4,1293.6 988.9,1272.5 988.9,1108.7 947.4,1129.8" fill="#48aa8e" stroke="#111" stroke-width="3.4" stroke-linejoin="round"/><polygon points="885.8,1102.9 947.4,1129.8 988.9,1108.7 927.3,1081.8" fill="#62b27c" stroke="#111" stroke-width="3.4" stroke-linejoin="round"/><polygon points="844.3,1287.8 905.9,1314.7 905.9,1144.0 844.3,1117.1" fill="#acb060" stroke="#111" stroke-width="3.4" stroke-linejoin="round"/><polygon points="905.9,1314.7 947.4,1293.6 947.4,1122.9 905.9,1144.0" fill="#48aa8e" stroke="#111" stroke-width="3.4" stroke-linejoin="round"/><polygon points="844.3,1117.1 905.9,1144.0 947.4,1122.9 885.8,1096.0" fill="#62b27c" stroke="#111" stroke-width="3.4" stroke-linejoin="round"/><polygon points="802.8,1308.9 864.4,1335.8 864.4,1150.3 802.8,1123.4" fill="#acb060" stroke="#111" stroke-width="3.4" stroke-linejoin="round"/><polygon points="864.4,1335.8 905.9,1314.7 905.9,1129.2 864.4,1150.3" fill="#62b27c" stroke="#111" stroke-width="3.4" stroke-linejoin="round"/><polygon points="802.8,1123.4 864.4,1150.3 905.9,1129.2 844.3,1102.3" fill="#acb060" stroke="#111" stroke-width="3.4" stroke-linejoin="round"/><polygon points="761.3,1330.0 822.9,1356.9 822.9,1158.1 761.3,1131.2" fill="#daa640" stroke="#111" stroke-width="3.4" stroke-linejoin="round"/><polygon points="822.9,1356.9 864.4,1335.8 864.4,1137.0 822.9,1158.1" fill="#62b27c" stroke="#111" stroke-width="3.4" stroke-linejoin="round"/><polygon points="761.3,1131.2 822.9,1158.1 864.4,1137.0 802.8,1110.2" fill="#acb060" stroke="#111" stroke-width="3.4" stroke-linejoin="round"/><polygon points="719.8,1351.1 781.4,1378.0 781.4,1171.8 719.8,1144.9" fill="#daa640" stroke="#111" stroke-width="3.4" stroke-linejoin="round"/><polygon points="781.4,1378.0 822.9,1356.9 822.9,1150.7 781.4,1171.8" fill="#acb060" stroke="#111" stroke-width="3.4" stroke-linejoin="round"/><polygon points="719.8,1144.9 781.4,1171.8 822.9,1150.7 761.3,1123.8" fill="#daa640" stroke="#111" stroke-width="3.4" stroke-linejoin="round"/><polygon points="678.3,1372.2 739.9,1399.1 739.9,1165.9 678.3,1139.0" fill="#d0ce42" stroke="#111" stroke-width="3.4" stroke-linejoin="round"/><polygon points="739.9,1399.1 781.4,1378.0 781.4,1144.8 739.9,1165.9" fill="#acb060" stroke="#111" stroke-width="3.4" stroke-linejoin="round"/><polygon points="678.3,1139.0 739.9,1165.9 781.4,1144.8 719.8,1117.9" fill="#daa640" stroke="#111" stroke-width="3.4" stroke-linejoin="round"/><polygon points="636.8,1393.3 698.4,1420.2 698.4,1192.3 636.8,1165.4" fill="#c8d440" stroke="#111" stroke-width="3.4" stroke-linejoin="round"/><polygon points="698.4,1420.2 739.9,1399.1 739.9,1171.2 698.4,1192.3" fill="#acb060" stroke="#111" stroke-width="3.4" stroke-linejoin="round"/><polygon points="636.8,1165.4 698.4,1192.3 739.9,1171.2 678.3,1144.3" fill="#d0ce42" stroke="#111" stroke-width="3.4" stroke-linejoin="round"/><polygon points="595.3,1414.4 656.9,1441.3 656.9,1176.3 595.3,1149.4" fill="#48aa8e" stroke="#111" stroke-width="3.4" stroke-linejoin="round"/><polygon points="656.9,1441.3 698.4,1420.2 698.4,1155.2 656.9,1176.3" fill="#daa640" stroke="#111" stroke-width="3.4" stroke-linejoin="round"/><polygon points="595.3,1149.4 656.9,1176.3 698.4,1155.2 636.8,1128.3" fill="#c8d440" stroke="#111" stroke-width="3.4" stroke-linejoin="round"/><polygon points="553.8,1435.5 615.4,1462.4 615.4,1314.5 553.8,1287.6" fill="#48aa8e" stroke="#111" stroke-width="3.4" stroke-linejoin="round"/><polygon points="615.4,1462.4 656.9,1441.3 656.9,1293.4 615.4,1314.5" fill="#c8d440" stroke="#111" stroke-width="3.4" stroke-linejoin="round"/><polygon points="553.8,1287.6 615.4,1314.5 656.9,1293.4 595.3,1266.5" fill="#48aa8e" stroke="#111" stroke-width="3.4" stroke-linejoin="round"/><polygon points="512.3,1456.6 573.9,1483.5 573.9,1347.8 512.3,1320.9" fill="#36307a" stroke="#111" stroke-width="3.4" stroke-linejoin="round"/><polygon points="573.9,1483.5 615.4,1462.4 615.4,1326.7 573.9,1347.8" fill="#48aa8e" stroke="#111" stroke-width="3.4" stroke-linejoin="round"/><polygon points="512.3,1320.9 573.9,1347.8 615.4,1326.7 553.8,1299.8" fill="#48aa8e" stroke="#111" stroke-width="3.4" stroke-linejoin="round"/><polygon points="947.4,1293.6 1009.0,1320.5 1009.0,1191.7 947.4,1164.8" fill="#48aa8e" stroke="#111" stroke-width="3.4" stroke-linejoin="round"/><polygon points="1009.0,1320.5 1050.5,1299.4 1050.5,1170.6 1009.0,1191.7" fill="#48aa8e" stroke="#111" stroke-width="3.4" stroke-linejoin="round"/><polygon points="947.4,1164.8 1009.0,1191.7 1050.5,1170.6 988.9,1143.7" fill="#48aa8e" stroke="#111" stroke-width="3.4" stroke-linejoin="round"/><polygon points="905.9,1314.7 967.5,1341.6 967.5,1203.3 905.9,1176.4" fill="#62b27c" stroke="#111" stroke-width="3.4" stroke-linejoin="round"/><polygon points="967.5,1341.6 1009.0,1320.5 1009.0,1182.2 967.5,1203.3" fill="#48aa8e" stroke="#111" stroke-width="3.4" stroke-linejoin="round"/><polygon points="905.9,1176.4 967.5,1203.3 1009.0,1182.2 947.4,1155.3" fill="#48aa8e" stroke="#111" stroke-width="3.4" stroke-linejoin="round"/><polygon points="864.4,1335.8 926.0,1362.7 926.0,1209.0 864.4,1182.1" fill="#62b27c" stroke="#111" stroke-width="3.4" stroke-linejoin="round"/><polygon points="926.0,1362.7 967.5,1341.6 967.5,1187.9 926.0,1209.0" fill="#48aa8e" stroke="#111" stroke-width="3.4" stroke-linejoin="round"/><polygon points="864.4,1182.1 926.0,1209.0 967.5,1187.9 905.9,1161.0" fill="#62b27c" stroke="#111" stroke-width="3.4" stroke-linejoin="round"/><polygon points="822.9,1356.9 884.5,1383.8 884.5,1211.0 822.9,1184.1" fill="#acb060" stroke="#111" stroke-width="3.4" stroke-linejoin="round"/><polygon points="884.5,1383.8 926.0,1362.7 926.0,1189.9 884.5,1211.0" fill="#48aa8e" stroke="#111" stroke-width="3.4" stroke-linejoin="round"/><polygon points="822.9,1184.1 884.5,1211.0 926.0,1189.9 864.4,1163.0" fill="#62b27c" stroke="#111" stroke-width="3.4" stroke-linejoin="round"/><polygon points="781.4,1378.0 843.0,1404.9 843.0,1228.9 781.4,1202.0" fill="#acb060" stroke="#111" stroke-width="3.4" stroke-linejoin="round"/><polygon points="843.0,1404.9 884.5,1383.8 884.5,1207.8 843.0,1228.9" fill="#62b27c" stroke="#111" stroke-width="3.4" stroke-linejoin="round"/><polygon points="781.4,1202.0 843.0,1228.9 884.5,1207.8 822.9,1180.9" fill="#acb060" stroke="#111" stroke-width="3.4" stroke-linejoin="round"/><polygon points="739.9,1399.1 801.5,1426.0 801.5,1240.5 739.9,1213.6" fill="#acb060" stroke="#111" stroke-width="3.4" stroke-linejoin="round"/><polygon points="801.5,1426.0 843.0,1404.9 843.0,1219.4 801.5,1240.5" fill="#62b27c" stroke="#111" stroke-width="3.4" stroke-linejoin="round"/><polygon points="739.9,1213.6 801.5,1240.5 843.0,1219.4 781.4,1192.5" fill="#acb060" stroke="#111" stroke-width="3.4" stroke-linejoin="round"/><polygon points="698.4,1420.2 760.0,1447.1 760.0,1245.2 698.4,1218.3" fill="#daa640" stroke="#111" stroke-width="3.4" stroke-linejoin="round"/><polygon points="760.0,1447.1 801.5,1426.0 801.5,1224.1 760.0,1245.2" fill="#62b27c" stroke="#111" stroke-width="3.4" stroke-linejoin="round"/><polygon points="698.4,1218.3 760.0,1245.2 801.5,1224.1 739.9,1197.2" fill="#acb060" stroke="#111" stroke-width="3.4" stroke-linejoin="round"/><polygon points="656.9,1441.3 718.5,1468.2 718.5,1237.7 656.9,1210.8" fill="#c8d440" stroke="#111" stroke-width="3.4" stroke-linejoin="round"/><polygon points="718.5,1468.2 760.0,1447.1 760.0,1216.5 718.5,1237.7" fill="#62b27c" stroke="#111" stroke-width="3.4" stroke-linejoin="round"/><polygon points="656.9,1210.8 718.5,1237.7 760.0,1216.5 698.4,1189.6" fill="#daa640" stroke="#111" stroke-width="3.4" stroke-linejoin="round"/><polygon points="615.4,1462.4 677.0,1489.3 677.0,1237.5 615.4,1210.6" fill="#48aa8e" stroke="#111" stroke-width="3.4" stroke-linejoin="round"/><polygon points="677.0,1489.3 718.5,1468.2 718.5,1216.5 677.0,1237.5" fill="#daa640" stroke="#111" stroke-width="3.4" stroke-linejoin="round"/><polygon points="615.4,1210.6 677.0,1237.5 718.5,1216.5 656.9,1189.5" fill="#c8d440" stroke="#111" stroke-width="3.4" stroke-linejoin="round"/><polygon points="573.9,1483.5 635.5,1510.4 635.5,1370.0 573.9,1343.0" fill="#36307a" stroke="#111" stroke-width="3.4" stroke-linejoin="round"/><polygon points="635.5,1510.4 677.0,1489.3 677.0,1348.8 635.5,1370.0" fill="#daa640" stroke="#111" stroke-width="3.4" stroke-linejoin="round"/><polygon points="573.9,1343.0 635.5,1370.0 677.0,1348.8 615.4,1321.9" fill="#48aa8e" stroke="#111" stroke-width="3.4" stroke-linejoin="round"/><polygon points="1009.0,1320.5 1070.6,1347.4 1070.6,1214.9 1009.0,1188.0" fill="#48aa8e" stroke="#111" stroke-width="3.4" stroke-linejoin="round"/><polygon points="1070.6,1347.4 1112.1,1326.3 1112.1,1193.8 1070.6,1214.9" fill="#48aa8e" stroke="#111" stroke-width="3.4" stroke-linejoin="round"/><polygon points="1009.0,1188.0 1070.6,1214.9 1112.1,1193.8 1050.5,1166.9" fill="#48aa8e" stroke="#111" stroke-width="3.4" stroke-linejoin="round"/><polygon points="967.5,1341.6 1029.1,1368.5 1029.1,1231.2 967.5,1204.3" fill="#48aa8e" stroke="#111" stroke-width="3.4" stroke-linejoin="round"/><polygon points="1029.1,1368.5 1070.6,1347.4 1070.6,1210.1 1029.1,1231.2" fill="#48aa8e" stroke="#111" stroke-width="3.4" stroke-linejoin="round"/><polygon points="967.5,1204.3 1029.1,1231.2 1070.6,1210.1 1009.0,1183.2" fill="#48aa8e" stroke="#111" stroke-width="3.4" stroke-linejoin="round"/><polygon points="926.0,1362.7 987.6,1389.6 987.6,1244.9 926.0,1218.0" fill="#48aa8e" stroke="#111" stroke-width="3.4" stroke-linejoin="round"/><polygon points="987.6,1389.6 1029.1,1368.5 1029.1,1223.8 987.6,1244.9" fill="#48aa8e" stroke="#111" stroke-width="3.4" stroke-linejoin="round"/><polygon points="926.0,1218.0 987.6,1244.9 1029.1,1223.8 967.5,1196.9" fill="#48aa8e" stroke="#111" stroke-width="3.4" stroke-linejoin="round"/><polygon points="884.5,1383.8 946.1,1410.7 946.1,1257.0 884.5,1230.1" fill="#62b27c" stroke="#111" stroke-width="3.4" stroke-linejoin="round"/><polygon points="946.1,1410.7 987.6,1389.6 987.6,1235.9 946.1,1257.0" fill="#62b27c" stroke="#111" stroke-width="3.4" stroke-linejoin="round"/><polygon points="884.5,1230.1 946.1,1257.0 987.6,1235.9 926.0,1209.0" fill="#48aa8e" stroke="#111" stroke-width="3.4" stroke-linejoin="round"/><polygon points="843.0,1404.9 904.6,1431.8 904.6,1272.8 843.0,1245.9" fill="#62b27c" stroke="#111" stroke-width="3.4" stroke-linejoin="round"/><polygon points="904.6,1431.8 946.1,1410.7 946.1,1251.7 904.6,1272.8" fill="#62b27c" stroke="#111" stroke-width="3.4" stroke-linejoin="round"/><polygon points="843.0,1245.9 904.6,1272.8 946.1,1251.7 884.5,1224.8" fill="#62b27c" stroke="#111" stroke-width="3.4" stroke-linejoin="round"/><polygon points="801.5,1426.0 863.1,1452.9 863.1,1278.0 801.5,1251.1" fill="#62b27c" stroke="#111" stroke-width="3.4" stroke-linejoin="round"/><polygon points="863.1,1452.9 904.6,1431.8 904.6,1256.9 863.1,1278.0" fill="#acb060" stroke="#111" stroke-width="3.4" stroke-linejoin="round"/><polygon points="801.5,1251.1 863.1,1278.0 904.6,1256.9 843.0,1230.0" fill="#62b27c" stroke="#111" stroke-width="3.4" stroke-linejoin="round"/><polygon points="760.0,1447.1 821.6,1474.0 821.6,1293.8 760.0,1266.9" fill="#62b27c" stroke="#111" stroke-width="3.4" stroke-linejoin="round"/><polygon points="821.6,1474.0 863.1,1452.9 863.1,1272.7 821.6,1293.8" fill="#62b27c" stroke="#111" stroke-width="3.4" stroke-linejoin="round"/><polygon points="760.0,1266.9 821.6,1293.8 863.1,1272.7 801.5,1245.8" fill="#62b27c" stroke="#111" stroke-width="3.4" stroke-linejoin="round"/><polygon points="718.5,1468.2 780.1,1495.1 780.1,1309.6 718.5,1282.7" fill="#daa640" stroke="#111" stroke-width="3.4" stroke-linejoin="round"/><polygon points="780.1,1495.1 821.6,1474.0 821.6,1288.5 780.1,1309.6" fill="#62b27c" stroke="#111" stroke-width="3.4" stroke-linejoin="round"/><polygon points="718.5,1282.7 780.1,1309.6 821.6,1288.5 760.0,1261.6" fill="#62b27c" stroke="#111" stroke-width="3.4" stroke-linejoin="round"/><polygon points="677.0,1489.3 738.6,1516.2 738.6,1320.1 677.0,1293.2" fill="#daa640" stroke="#111" stroke-width="3.4" stroke-linejoin="round"/><polygon points="738.6,1516.2 780.1,1495.1 780.1,1299.0 738.6,1320.1" fill="#acb060" stroke="#111" stroke-width="3.4" stroke-linejoin="round"/><polygon points="677.0,1293.2 738.6,1320.1 780.1,1299.0 718.5,1272.1" fill="#daa640" stroke="#111" stroke-width="3.4" stroke-linejoin="round"/><polygon points="635.5,1510.4 697.1,1537.3 697.1,1328.5 635.5,1301.6" fill="#48aa8e" stroke="#111" stroke-width="3.4" stroke-linejoin="round"/><polygon points="697.1,1537.3 738.6,1516.2 738.6,1307.4 697.1,1328.5" fill="#daa640" stroke="#111" stroke-width="3.4" stroke-linejoin="round"/><polygon points="635.5,1301.6 697.1,1328.5 738.6,1307.4 677.0,1280.5" fill="#daa640" stroke="#111" stroke-width="3.4" stroke-linejoin="round"/><polygon points="594.0,1531.5 655.6,1558.4 655.6,1421.7 594.0,1394.8" fill="#36307a" stroke="#111" stroke-width="3.4" stroke-linejoin="round"/><polygon points="655.6,1558.4 697.1,1537.3 697.1,1400.6 655.6,1421.7" fill="#daa640" stroke="#111" stroke-width="3.4" stroke-linejoin="round"/><polygon points="594.0,1394.8 655.6,1421.7 697.1,1400.6 635.5,1373.7" fill="#48aa8e" stroke="#111" stroke-width="3.4" stroke-linejoin="round"/><polygon points="1070.6,1347.4 1132.2,1374.3 1132.2,1237.0 1070.6,1210.1" fill="#48aa8e" stroke="#111" stroke-width="3.4" stroke-linejoin="round"/><polygon points="1132.2,1374.3 1173.7,1353.2 1173.7,1215.9 1132.2,1237.0" fill="#48aa8e" stroke="#111" stroke-width="3.4" stroke-linejoin="round"/><polygon points="1070.6,1210.1 1132.2,1237.0 1173.7,1215.9 1112.1,1189.0" fill="#48aa8e" stroke="#111" stroke-width="3.4" stroke-linejoin="round"/><polygon points="1029.1,1368.5 1090.7,1395.4 1090.7,1247.0 1029.1,1220.1" fill="#48aa8e" stroke="#111" stroke-width="3.4" stroke-linejoin="round"/><polygon points="1090.7,1395.4 1132.2,1374.3 1132.2,1225.9 1090.7,1247.0" fill="#48aa8e" stroke="#111" stroke-width="3.4" stroke-linejoin="round"/><polygon points="1029.1,1220.1 1090.7,1247.0 1132.2,1225.9 1070.6,1199.0" fill="#48aa8e" stroke="#111" stroke-width="3.4" stroke-linejoin="round"/><polygon points="987.6,1389.6 1049.2,1416.5 1049.2,1260.2 987.6,1233.2" fill="#62b27c" stroke="#111" stroke-width="3.4" stroke-linejoin="round"/><polygon points="1049.2,1416.5 1090.7,1395.4 1090.7,1239.0 1049.2,1260.2" fill="#62b27c" stroke="#111" stroke-width="3.4" stroke-linejoin="round"/><polygon points="987.6,1233.2 1049.2,1260.2 1090.7,1239.0 1029.1,1212.2" fill="#48aa8e" stroke="#111" stroke-width="3.4" stroke-linejoin="round"/><polygon points="946.1,1410.7 1007.7,1437.6 1007.7,1270.6 946.1,1243.8" fill="#62b27c" stroke="#111" stroke-width="3.4" stroke-linejoin="round"/><polygon points="1007.7,1437.6 1049.2,1416.5 1049.2,1249.5 1007.7,1270.6" fill="#62b27c" stroke="#111" stroke-width="3.4" stroke-linejoin="round"/><polygon points="946.1,1243.8 1007.7,1270.6 1049.2,1249.5 987.6,1222.7" fill="#62b27c" stroke="#111" stroke-width="3.4" stroke-linejoin="round"/><polygon points="904.6,1431.8 966.2,1458.7 966.2,1289.1 904.6,1262.2" fill="#acb060" stroke="#111" stroke-width="3.4" stroke-linejoin="round"/><polygon points="966.2,1458.7 1007.7,1437.6 1007.7,1268.0 966.2,1289.1" fill="#62b27c" stroke="#111" stroke-width="3.4" stroke-linejoin="round"/><polygon points="904.6,1262.2 966.2,1289.1 1007.7,1268.0 946.1,1241.1" fill="#62b27c" stroke="#111" stroke-width="3.4" stroke-linejoin="round"/><polygon points="863.1,1452.9 924.7,1479.8 924.7,1306.5 863.1,1279.6" fill="#62b27c" stroke="#111" stroke-width="3.4" stroke-linejoin="round"/><polygon points="924.7,1479.8 966.2,1458.7 966.2,1285.4 924.7,1306.5" fill="#62b27c" stroke="#111" stroke-width="3.4" stroke-linejoin="round"/><polygon points="863.1,1279.6 924.7,1306.5 966.2,1285.4 904.6,1258.5" fill="#acb060" stroke="#111" stroke-width="3.4" stroke-linejoin="round"/><polygon points="821.6,1474.0 883.2,1500.9 883.2,1323.3 821.6,1296.5" fill="#62b27c" stroke="#111" stroke-width="3.4" stroke-linejoin="round"/><polygon points="883.2,1500.9 924.7,1479.8 924.7,1302.2 883.2,1323.3" fill="#62b27c" stroke="#111" stroke-width="3.4" stroke-linejoin="round"/><polygon points="821.6,1296.5 883.2,1323.3 924.7,1302.2 863.1,1275.4" fill="#62b27c" stroke="#111" stroke-width="3.4" stroke-linejoin="round"/><polygon points="780.1,1495.1 841.7,1522.0 841.7,1339.2 780.1,1312.2" fill="#acb060" stroke="#111" stroke-width="3.4" stroke-linejoin="round"/><polygon points="841.7,1522.0 883.2,1500.9 883.2,1318.0 841.7,1339.2" fill="#62b27c" stroke="#111" stroke-width="3.4" stroke-linejoin="round"/><polygon points="780.1,1312.2 841.7,1339.2 883.2,1318.0 821.6,1291.2" fill="#62b27c" stroke="#111" stroke-width="3.4" stroke-linejoin="round"/><polygon points="738.6,1516.2 800.2,1543.1 800.2,1352.3 738.6,1325.4" fill="#daa640" stroke="#111" stroke-width="3.4" stroke-linejoin="round"/><polygon points="800.2,1543.1 841.7,1522.0 841.7,1331.2 800.2,1352.3" fill="#acb060" stroke="#111" stroke-width="3.4" stroke-linejoin="round"/><polygon points="738.6,1325.4 800.2,1352.3 841.7,1331.2 780.1,1304.3" fill="#acb060" stroke="#111" stroke-width="3.4" stroke-linejoin="round"/><polygon points="697.1,1537.3 758.7,1564.2 758.7,1362.8 697.1,1335.9" fill="#daa640" stroke="#111" stroke-width="3.4" stroke-linejoin="round"/><polygon points="758.7,1564.2 800.2,1543.1 800.2,1341.7 758.7,1362.8" fill="#acb060" stroke="#111" stroke-width="3.4" stroke-linejoin="round"/><polygon points="697.1,1335.9 758.7,1362.8 800.2,1341.7 738.6,1314.8" fill="#daa640" stroke="#111" stroke-width="3.4" stroke-linejoin="round"/><polygon points="655.6,1558.4 717.2,1585.3 717.2,1374.4 655.6,1347.5" fill="#36307a" stroke="#111" stroke-width="3.4" stroke-linejoin="round"/><polygon points="717.2,1585.3 758.7,1564.2 758.7,1353.3 717.2,1374.4" fill="#daa640" stroke="#111" stroke-width="3.4" stroke-linejoin="round"/><polygon points="655.6,1347.5 717.2,1374.4 758.7,1353.3 697.1,1326.4" fill="#daa640" stroke="#111" stroke-width="3.4" stroke-linejoin="round"/><polygon points="1132.2,1374.3 1193.8,1401.2 1193.8,1260.8 1132.2,1233.8" fill="#48aa8e" stroke="#111" stroke-width="3.4" stroke-linejoin="round"/><polygon points="1193.8,1401.2 1235.3,1380.1 1235.3,1239.6 1193.8,1260.8" fill="#36307a" stroke="#111" stroke-width="3.4" stroke-linejoin="round"/><polygon points="1132.2,1233.8 1193.8,1260.8 1235.3,1239.6 1173.7,1212.7" fill="#48aa8e" stroke="#111" stroke-width="3.4" stroke-linejoin="round"/><polygon points="1090.7,1395.4 1152.3,1422.3 1152.3,1271.8 1090.7,1244.9" fill="#62b27c" stroke="#111" stroke-width="3.4" stroke-linejoin="round"/><polygon points="1152.3,1422.3 1193.8,1401.2 1193.8,1250.7 1152.3,1271.8" fill="#36307a" stroke="#111" stroke-width="3.4" stroke-linejoin="round"/><polygon points="1090.7,1244.9 1152.3,1271.8 1193.8,1250.7 1132.2,1223.8" fill="#48aa8e" stroke="#111" stroke-width="3.4" stroke-linejoin="round"/><polygon points="1049.2,1416.5 1110.8,1443.4 1110.8,1283.9 1049.2,1257.0" fill="#62b27c" stroke="#111" stroke-width="3.4" stroke-linejoin="round"/><polygon points="1110.8,1443.4 1152.3,1422.3 1152.3,1262.8 1110.8,1283.9" fill="#36307a" stroke="#111" stroke-width="3.4" stroke-linejoin="round"/><polygon points="1049.2,1257.0 1110.8,1283.9 1152.3,1262.8 1090.7,1235.9" fill="#62b27c" stroke="#111" stroke-width="3.4" stroke-linejoin="round"/><polygon points="1007.7,1437.6 1069.3,1464.5 1069.3,1297.5 1007.7,1270.6" fill="#62b27c" stroke="#111" stroke-width="3.4" stroke-linejoin="round"/><polygon points="1069.3,1464.5 1110.8,1443.4 1110.8,1276.5 1069.3,1297.5" fill="#36307a" stroke="#111" stroke-width="3.4" stroke-linejoin="round"/><polygon points="1007.7,1270.6 1069.3,1297.5 1110.8,1276.5 1049.2,1249.5" fill="#62b27c" stroke="#111" stroke-width="3.4" stroke-linejoin="round"/><polygon points="966.2,1458.7 1027.8,1485.6 1027.8,1318.1 966.2,1291.2" fill="#62b27c" stroke="#111" stroke-width="3.4" stroke-linejoin="round"/><polygon points="1027.8,1485.6 1069.3,1464.5 1069.3,1297.0 1027.8,1318.1" fill="#36307a" stroke="#111" stroke-width="3.4" stroke-linejoin="round"/><polygon points="966.2,1291.2 1027.8,1318.1 1069.3,1297.0 1007.7,1270.1" fill="#62b27c" stroke="#111" stroke-width="3.4" stroke-linejoin="round"/><polygon points="924.7,1479.8 986.3,1506.7 986.3,1333.9 924.7,1307.0" fill="#62b27c" stroke="#111" stroke-width="3.4" stroke-linejoin="round"/><polygon points="986.3,1506.7 1027.8,1485.6 1027.8,1312.8 986.3,1333.9" fill="#36307a" stroke="#111" stroke-width="3.4" stroke-linejoin="round"/><polygon points="924.7,1307.0 986.3,1333.9 1027.8,1312.8 966.2,1285.9" fill="#62b27c" stroke="#111" stroke-width="3.4" stroke-linejoin="round"/><polygon points="883.2,1500.9 944.8,1527.8 944.8,1350.2 883.2,1323.3" fill="#62b27c" stroke="#111" stroke-width="3.4" stroke-linejoin="round"/><polygon points="944.8,1527.8 986.3,1506.7 986.3,1329.2 944.8,1350.2" fill="#36307a" stroke="#111" stroke-width="3.4" stroke-linejoin="round"/><polygon points="883.2,1323.3 944.8,1350.2 986.3,1329.2 924.7,1302.2" fill="#62b27c" stroke="#111" stroke-width="3.4" stroke-linejoin="round"/><polygon points="841.7,1522.0 903.3,1548.9 903.3,1367.6 841.7,1340.7" fill="#acb060" stroke="#111" stroke-width="3.4" stroke-linejoin="round"/><polygon points="903.3,1548.9 944.8,1527.8 944.8,1346.5 903.3,1367.6" fill="#36307a" stroke="#111" stroke-width="3.4" stroke-linejoin="round"/><polygon points="841.7,1340.7 903.3,1367.6 944.8,1346.5 883.2,1319.6" fill="#62b27c" stroke="#111" stroke-width="3.4" stroke-linejoin="round"/><polygon points="800.2,1543.1 861.8,1570.0 861.8,1375.5 800.2,1348.6" fill="#acb060" stroke="#111" stroke-width="3.4" stroke-linejoin="round"/><polygon points="861.8,1570.0 903.3,1548.9 903.3,1354.4 861.8,1375.5" fill="#36307a" stroke="#111" stroke-width="3.4" stroke-linejoin="round"/><polygon points="800.2,1348.6 861.8,1375.5 903.3,1354.4 841.7,1327.5" fill="#acb060" stroke="#111" stroke-width="3.4" stroke-linejoin="round"/><polygon points="758.7,1564.2 820.3,1591.1 820.3,1387.6 758.7,1360.7" fill="#daa640" stroke="#111" stroke-width="3.4" stroke-linejoin="round"/><polygon points="820.3,1591.1 861.8,1570.0 861.8,1366.5 820.3,1387.6" fill="#36307a" stroke="#111" stroke-width="3.4" stroke-linejoin="round"/><polygon points="758.7,1360.7 820.3,1387.6 861.8,1366.5 800.2,1339.6" fill="#acb060" stroke="#111" stroke-width="3.4" stroke-linejoin="round"/><polygon points="717.2,1585.3 778.8,1612.2 778.8,1406.0 717.2,1379.1" fill="#36307a" stroke="#111" stroke-width="3.4" stroke-linejoin="round"/><polygon points="778.8,1612.2 820.3,1591.1 820.3,1384.9 778.8,1406.0" fill="#36307a" stroke="#111" stroke-width="3.4" stroke-linejoin="round"/><polygon points="717.2,1379.1 778.8,1406.0 820.3,1384.9 758.7,1358.0" fill="#daa640" stroke="#111" stroke-width="3.4" stroke-linejoin="round"/><polygon points="594.0,1531.5 632.8,1548.4 632.8,1411.7 594.0,1394.8" fill="#48aa8e" stroke="none" stroke-width="3.4" stroke-linejoin="round"/><line x1="594.0" y1="1531.5" x2="594.0" y2="1394.8" stroke="#111" stroke-width="3.4"/><polygon points="655.6,1421.7 696.3,1439.4 696.3,1365.2 655.6,1347.5" fill="#daa640" stroke="none" stroke-width="3.4" stroke-linejoin="round"/><line x1="655.6" y1="1558.4" x2="655.6" y2="1347.5" stroke="#111" stroke-width="3.4"/><line x1="286.0" y1="1397.0" x2="286.0" y2="1132.0" stroke="#333" stroke-width="3"/><line x1="272.0" y1="1131.0" x2="286.0" y2="1132.0" stroke="#333" stroke-width="3"/><line x1="272.0" y1="1391.0" x2="286.0" y2="1397.0" stroke="#333" stroke-width="3"/><line x1="310.6" y1="1407.8" x2="298.6" y2="1413.8" stroke="#444" stroke-width="3"/><line x1="433.8" y1="1461.6" x2="421.8" y2="1467.6" stroke="#444" stroke-width="3"/><line x1="557.0" y1="1515.4" x2="545.0" y2="1521.4" stroke="#444" stroke-width="3"/><line x1="680.2" y1="1569.2" x2="668.2" y2="1575.2" stroke="#444" stroke-width="3"/><line x1="849.8" y1="1576.1" x2="861.8" y2="1582.1" stroke="#444" stroke-width="3"/><line x1="952.7" y1="1523.8" x2="964.7" y2="1529.8" stroke="#444" stroke-width="3"/><line x1="1055.6" y1="1471.5" x2="1067.6" y2="1477.5" stroke="#444" stroke-width="3"/><line x1="1158.9" y1="1418.9" x2="1170.9" y2="1424.9" stroke="#444" stroke-width="3"/><text x="232" y="1143" font-family="'Liberation Serif',serif" font-size="53" fill="#231f20" text-anchor="start" font-weight="normal" style="" >5</text><text x="230" y="1405" font-family="'Liberation Serif',serif" font-size="53" fill="#231f20" text-anchor="start" font-weight="normal" style="" >0</text><text x="186" y="1079" font-family="'Liberation Serif',serif" font-size="53" fill="#231f20" text-anchor="start" font-weight="normal" style="" >(×10<tspan font-size="36" dy="-22">4</tspan><tspan dy="22">)</tspan></text><text x="0" y="0" font-family="'Liberation Serif',serif" font-size="53" fill="#231f20" text-anchor="start" font-weight="normal" style="font-style:italic;" transform="translate(207,1275) rotate(-90)">Ma</text><text x="232" y="1469" font-family="'Liberation Serif',serif" font-size="53" fill="#231f20" text-anchor="start" font-weight="normal" style="" >1.0</text><text x="343.6" y="1523.3" font-family="'Liberation Serif',serif" font-size="53" fill="#231f20" text-anchor="start" font-weight="normal" style="" >0.8</text><text x="469.8" y="1575.7" font-family="'Liberation Serif',serif" font-size="53" fill="#231f20" text-anchor="start" font-weight="normal" style="" >0.6</text><text x="592.1" y="1629" font-family="'Liberation Serif',serif" font-size="53" fill="#231f20" text-anchor="start" font-weight="normal" style="" >0.4</text><text x="0" y="0" font-family="'Liberation Serif',serif" font-size="53" fill="#231f20" text-anchor="start" font-weight="normal" style="font-style:italic;" transform="translate(325,1613) rotate(24)">Ar</text><text x="875.8" y="1630.6" font-family="'Liberation Serif',serif" font-size="53" fill="#231f20" text-anchor="start" font-weight="normal" style="" >0.6</text><text x="977.8" y="1578.2" font-family="'Liberation Serif',serif" font-size="53" fill="#231f20" text-anchor="start" font-weight="normal" style="" >0.7</text><text x="1083.7" y="1522.7" font-family="'Liberation Serif',serif" font-size="53" fill="#231f20" text-anchor="start" font-weight="normal" style="" >0.8</text><text x="1183.7" y="1473.3" font-family="'Liberation Serif',serif" font-size="53" fill="#231f20" text-anchor="start" font-weight="normal" style="" >0.9</text><text x="0" y="0" font-family="'Liberation Serif',serif" font-size="53" fill="#231f20" text-anchor="start" font-weight="normal" style="font-style:italic;" transform="translate(1130,1640) rotate(-36)">Vr</text><g clip-path="url(#specclip)"><rect x="1390" y="952.5" width="1342" height="297.0" fill="#4aa68e"/><rect x="1390" y="952.5" width="1342" height="297.0" filter="url(#specnoise)" opacity="0.55"/><clipPath id="blobclip"><rect x="2286" y="940" width="460" height="320"/></clipPath><g clip-path="url(#blobclip)" mask="url(#bmask)"><g filter="url(#blobblur)" opacity="0.92"><path d="M2250,1260 L2250,1085 C2330,1050 2420,1035 2480,1065 C2530,1095 2560,1140 2620,1185 C2670,1220 2700,1240 2740,1260 Z" fill="#e29c40"/><ellipse cx="2420" cy="1215" rx="120" ry="35" fill="#e4bc3c"/></g><rect x="2286" y="1030" width="450" height="220" filter="url(#blobnoise)" opacity="0.3"/></g><polyline points="1493.4,1228.2 2201.5,1209.8 2300,1207" fill="none" stroke="#e8b848" stroke-width="5" opacity="0.95" stroke-linecap="round"/><polyline points="1500.8,1206 2201.5,1169.2 2290,1166" fill="none" stroke="#e6b040" stroke-width="5" opacity="0.95" stroke-linecap="round"/><polyline points="1567,1180.3 2282.6,1125" fill="none" stroke="#dcae50" stroke-width="3.5" opacity="0.8" stroke-linecap="round"/><polyline points="1641,1154.5 2275.2,1088" fill="none" stroke="#d8aa58" stroke-width="3.2" opacity="0.7" stroke-linecap="round"/><polyline points="1781,1113.9 2268,1047.5" fill="none" stroke="#d4aa60" stroke-width="3" opacity="0.55" stroke-linecap="round"/><polyline points="1913.8,1084.4 2260.5,1010.6" fill="none" stroke="#d0aa68" stroke-width="2.6" opacity="0.4" stroke-linecap="round"/><line x1="2215" y1="1238" x2="2700" y2="1241" stroke="#e8c040" stroke-width="3" opacity="0.5"/><line x1="2220" y1="1230" x2="2700" y2="1233" stroke="#e8c040" stroke-width="3" opacity="0.5"/><line x1="2230" y1="1215" x2="2620" y2="1218" stroke="#e8c040" stroke-width="3" opacity="0.45"/><line x1="2240" y1="1195" x2="2560" y2="1198" stroke="#e8c040" stroke-width="3" opacity="0.5"/><line x1="2260" y1="1180" x2="2520" y2="1183" stroke="#e8c040" stroke-width="3" opacity="0.45"/><line x1="2270" y1="1160" x2="2500" y2="1163" stroke="#e8c040" stroke-width="3" opacity="0.4"/><line x1="2280" y1="1140" x2="2470" y2="1143" stroke="#e8c040" stroke-width="3" opacity="0.35"/><line x1="2290" y1="1120" x2="2460" y2="1123" stroke="#e8c040" stroke-width="3" opacity="0.3"/><line x1="2300" y1="1100" x2="2440" y2="1103" stroke="#e8c040" stroke-width="3" opacity="0.25"/></g><rect x="1390" y="952.5" width="1342" height="297.0" fill="none" stroke="#2a3a3a" stroke-width="2.5"/><line x1="1495" y1="1176" x2="1495" y2="1209" stroke="#c04040" stroke-width="3"/><polygon points="1488,1207 1502,1207 1495,1219" fill="#e02828"/><line x1="2201" y1="1177" x2="2201" y2="1210" stroke="#c04040" stroke-width="3"/><polygon points="2194,1208 2208,1208 2201,1220" fill="#e02828"/><line x1="2352.5" y1="1154" x2="2352.5" y2="1189" stroke="#c04040" stroke-width="3"/><polygon points="2345.5,1187 2359.5,1187 2352.5,1199" fill="#e02828"/><text x="1487" y="1166" font-family="'Liberation Serif',serif" font-size="30" fill="#231f20" text-anchor="start" font-weight="bold" style="font-style:italic;" >a</text><text x="2194" y="1165" font-family="'Liberation Serif',serif" font-size="30" fill="#231f20" text-anchor="start" font-weight="bold" style="font-style:italic;" >b</text><text x="2346" y="1148" font-family="'Liberation Serif',serif" font-size="30" fill="#231f20" text-anchor="start" font-weight="bold" style="font-style:italic;" >c</text><rect x="2736" y="952.5" width="8.5" height="297" fill="url(#cbar)" stroke="#2a2a50" stroke-width="1.5"/><text x="2767" y="992" font-family="'Liberation Serif',serif" font-size="40" fill="#231f20" text-anchor="start" font-weight="normal" style="" >0</text><text x="2764" y="1075" font-family="'Liberation Serif',serif" font-size="40" fill="#231f20" text-anchor="start" font-weight="normal" style="" >−50</text><text x="2764" y="1159" font-family="'Liberation Serif',serif" font-size="40" fill="#231f20" text-anchor="start" font-weight="normal" style="" >−100</text><text x="2764" y="1241" font-family="'Liberation Serif',serif" font-size="40" fill="#231f20" text-anchor="start" font-weight="normal" style="" >−150</text><text x="0" y="0" font-family="'Liberation Serif',serif" font-size="55.4" fill="#231f20" text-anchor="start" font-weight="normal" style="" transform="translate(2919.4,1306.6) rotate(-90)">Power/Frequency /</text><text x="0" y="0" font-family="'Liberation Serif',serif" font-size="55.4" fill="#231f20" text-anchor="start" font-weight="normal" style="" transform="translate(2984.8,1207) rotate(-90)">(dB·Hz<tspan font-size="38" dy="-20">−1</tspan><tspan dy="20">)</tspan></text><text x="1386" y="971.9" font-family="'Liberation Serif',serif" font-size="48" fill="#231f20" text-anchor="end" font-weight="normal" style="" >0.8</text><text x="1386" y="1043.6" font-family="'Liberation Serif',serif" font-size="48" fill="#231f20" text-anchor="end" font-weight="normal" style="" >0.6</text><text x="1386" y="1115.4" font-family="'Liberation Serif',serif" font-size="48" fill="#231f20" text-anchor="end" font-weight="normal" style="" >0.4</text><text x="1386" y="1190" font-family="'Liberation Serif',serif" font-size="48" fill="#231f20" text-anchor="end" font-weight="normal" style="" >0.2</text><text x="1386" y="1261" font-family="'Liberation Serif',serif" font-size="48" fill="#231f20" text-anchor="end" font-weight="normal" style="" >0</text><text x="0" y="0" font-family="'Liberation Serif',serif" font-size="55.4" fill="#231f20" text-anchor="start" font-weight="normal" style="" transform="translate(1306,1264) rotate(-90)">Frequecy / Hz</text><line x1="1390" y1="1249.5" x2="1398" y2="1249.5" stroke="#333" stroke-width="2"/><line x1="2732" y1="1249.5" x2="2725" y2="1249.5" stroke="#333" stroke-width="1.5" opacity="0.6"/><line x1="1390" y1="1212.4" x2="1398" y2="1212.4" stroke="#333" stroke-width="2"/><line x1="2732" y1="1212.4" x2="2725" y2="1212.4" stroke="#333" stroke-width="1.5" opacity="0.6"/><line x1="1390" y1="1175.2" x2="1398" y2="1175.2" stroke="#333" stroke-width="2"/><line x1="2732" y1="1175.2" x2="2725" y2="1175.2" stroke="#333" stroke-width="1.5" opacity="0.6"/><line x1="1390" y1="1138.1" x2="1398" y2="1138.1" stroke="#333" stroke-width="2"/><line x1="2732" y1="1138.1" x2="2725" y2="1138.1" stroke="#333" stroke-width="1.5" opacity="0.6"/><line x1="1390" y1="1101.0" x2="1398" y2="1101.0" stroke="#333" stroke-width="2"/><line x1="2732" y1="1101.0" x2="2725" y2="1101.0" stroke="#333" stroke-width="1.5" opacity="0.6"/><line x1="1390" y1="1063.9" x2="1398" y2="1063.9" stroke="#333" stroke-width="2"/><line x1="2732" y1="1063.9" x2="2725" y2="1063.9" stroke="#333" stroke-width="1.5" opacity="0.6"/><line x1="1390" y1="1026.8" x2="1398" y2="1026.8" stroke="#333" stroke-width="2"/><line x1="2732" y1="1026.8" x2="2725" y2="1026.8" stroke="#333" stroke-width="1.5" opacity="0.6"/><line x1="1390" y1="989.6" x2="1398" y2="989.6" stroke="#333" stroke-width="2"/><line x1="2732" y1="989.6" x2="2725" y2="989.6" stroke="#333" stroke-width="1.5" opacity="0.6"/><line x1="1390" y1="952.5" x2="1398" y2="952.5" stroke="#333" stroke-width="2"/><line x1="2732" y1="952.5" x2="2725" y2="952.5" stroke="#333" stroke-width="1.5" opacity="0.6"/><rect x="1389" y="1273.5" width="1343" height="314.0" fill="#fff" stroke="#505050" stroke-width="2.5"/><rect x="1492.3" y="1451.4" width="21.8" height="136.1" fill="#4c7fbe"/><rect x="1514.1" y="1418.9" width="21.5" height="168.6" fill="url(#ohatch)" stroke="#b89a48" stroke-width="2" stroke-dasharray="2,1.5"/><rect x="1701.6" y="1482" width="21.8" height="105.5" fill="#4c7fbe"/><rect x="1723.4" y="1435.8" width="23.5" height="151.7" fill="url(#ohatch)" stroke="#b89a48" stroke-width="2" stroke-dasharray="2,1.5"/><rect x="1829.2" y="1482" width="22.2" height="105.5" fill="#4c7fbe"/><rect x="1851.4" y="1448.2" width="22.7" height="139.3" fill="url(#ohatch)" stroke="#b89a48" stroke-width="2" stroke-dasharray="2,1.5"/><rect x="1957.8" y="1474.8" width="21.2" height="112.7" fill="#4c7fbe"/><rect x="1979" y="1471" width="22.7" height="116.5" fill="url(#ohatch)" stroke="#b89a48" stroke-width="2" stroke-dasharray="2,1.5"/><rect x="2087.2" y="1484" width="21.2" height="103.5" fill="#4c7fbe"/><rect x="2108.4" y="1414.7" width="20.5" height="172.8" fill="url(#ohatch)" stroke="#b89a48" stroke-width="2" stroke-dasharray="2,1.5"/><rect x="2214.8" y="1374" width="21.9" height="213.5" fill="#4c7fbe"/><rect x="2236.7" y="1434.2" width="20.5" height="153.3" fill="url(#ohatch)" stroke="#b89a48" stroke-width="2" stroke-dasharray="2,1.5"/><rect x="2344.4" y="1361" width="22.2" height="226.5" fill="#4c7fbe"/><rect x="2366.6" y="1299.7" width="21.8" height="287.8" fill="url(#ohatch)" stroke="#b89a48" stroke-width="2" stroke-dasharray="2,1.5"/><line x1="1389" y1="1587.5" x2="2732" y2="1587.5" stroke="#303030" stroke-width="3"/><line x1="1389" y1="1378.8" x2="1398" y2="1378.8" stroke="#222" stroke-width="3"/><line x1="2732" y1="1378.8" x2="2720" y2="1378.8" stroke="#222" stroke-width="3"/><line x1="1389" y1="1483" x2="1398" y2="1483" stroke="#222" stroke-width="3"/><line x1="2732" y1="1483" x2="2720" y2="1483" stroke="#222" stroke-width="3"/><line x1="1441.8" y1="1587.5" x2="1441.8" y2="1576.5" stroke="#222" stroke-width="3"/><line x1="1668" y1="1587.5" x2="1668" y2="1576.5" stroke="#222" stroke-width="3"/><line x1="1894.3" y1="1587.5" x2="1894.3" y2="1576.5" stroke="#222" stroke-width="3"/><line x1="2119.8" y1="1587.5" x2="2119.8" y2="1576.5" stroke="#222" stroke-width="3"/><line x1="2346" y1="1587.5" x2="2346" y2="1576.5" stroke="#222" stroke-width="3"/><line x1="2574" y1="1587.5" x2="2574" y2="1576.5" stroke="#222" stroke-width="3"/><rect x="1422.3" y="1310.5" width="22" height="19.5" fill="#4c7fbe"/><rect x="1422.3" y="1367.4" width="22" height="19.5" fill="url(#ohatch)" stroke="#b89a48" stroke-width="2" stroke-dasharray="2,1.5"/><text x="1454.9" y="1335.5" font-family="'Liberation Serif',serif" font-size="55.6" fill="#231f20" text-anchor="start" font-weight="normal" style="" >Correlation dimension, <tspan font-style="italic">D</tspan><tspan font-size="40">m</tspan></text><text x="1454.9" y="1391.8" font-family="'Liberation Serif',serif" font-size="55.6" fill="#231f20" text-anchor="start" font-weight="normal" style="" >Largest Lyapunov exponent, <tspan font-style="italic">λ</tspan><tspan font-size="40">max</tspan></text><text x="1386" y="1302.5" font-family="'Liberation Serif',serif" font-size="49.5" fill="#231f20" text-anchor="end" font-weight="normal" style="" >3.0</text><text x="1386" y="1394.7" font-family="'Liberation Serif',serif" font-size="49.5" fill="#231f20" text-anchor="end" font-weight="normal" style="" >2.0</text><text x="1386" y="1496.8" font-family="'Liberation Serif',serif" font-size="49.5" fill="#231f20" text-anchor="end" font-weight="normal" style="" >1.0</text><text x="1386" y="1593.5" font-family="'Liberation Serif',serif" font-size="49.5" fill="#231f20" text-anchor="end" font-weight="normal" style="" >0</text><text x="0" y="0" font-family="'Liberation Serif',serif" font-size="54" fill="#231f20" text-anchor="start" font-weight="normal" style="" transform="translate(1316,1467) rotate(-90)"><tspan font-style="italic">D</tspan><tspan font-size="38" dy="6">m</tspan></text><text x="2754.5" y="1300.1" font-family="'Liberation Serif',serif" font-size="40" fill="#231f20" text-anchor="start" font-weight="normal" style="" >0.2</text><text x="2754.5" y="1396.7" font-family="'Liberation Serif',serif" font-size="40" fill="#231f20" text-anchor="start" font-weight="normal" style="" >0.1</text><text x="2754.5" y="1493.3" font-family="'Liberation Serif',serif" font-size="40" fill="#231f20" text-anchor="start" font-weight="normal" style="" >0</text><text x="2752" y="1589.9" font-family="'Liberation Serif',serif" font-size="40" fill="#231f20" text-anchor="start" font-weight="normal" style="" >−0.1</text><text x="0" y="0" font-family="'Liberation Serif',serif" font-size="52" fill="#231f20" text-anchor="start" font-weight="normal" style="" transform="translate(2916,1448) rotate(-90)">λ<tspan font-size="32" dy="8">L</tspan></text><text x="1440.2" y="1641" font-family="'Liberation Serif',serif" font-size="42" fill="#231f20" text-anchor="middle" font-weight="normal" style="" >3600</text><text x="1667" y="1641" font-family="'Liberation Serif',serif" font-size="42" fill="#231f20" text-anchor="middle" font-weight="normal" style="" >5400</text><text x="1893" y="1641" font-family="'Liberation Serif',serif" font-size="42" fill="#231f20" text-anchor="middle" font-weight="normal" style="" >7200</text><text x="2119" y="1641" font-family="'Liberation Serif',serif" font-size="42" fill="#231f20" text-anchor="middle" font-weight="normal" style="" >9000</text><text x="2346.8" y="1641" font-family="'Liberation Serif',serif" font-size="42" fill="#231f20" text-anchor="middle" font-weight="normal" style="" >10800</text><text x="2573" y="1641" font-family="'Liberation Serif',serif" font-size="42" fill="#231f20" text-anchor="middle" font-weight="normal" style="" >12400</text><text x="2046.6" y="1707.7" font-family="'Liberation Serif',serif" font-size="41" fill="#231f20" text-anchor="middle" font-weight="normal" style="" >Time / s</text>
</svg></body></html>
